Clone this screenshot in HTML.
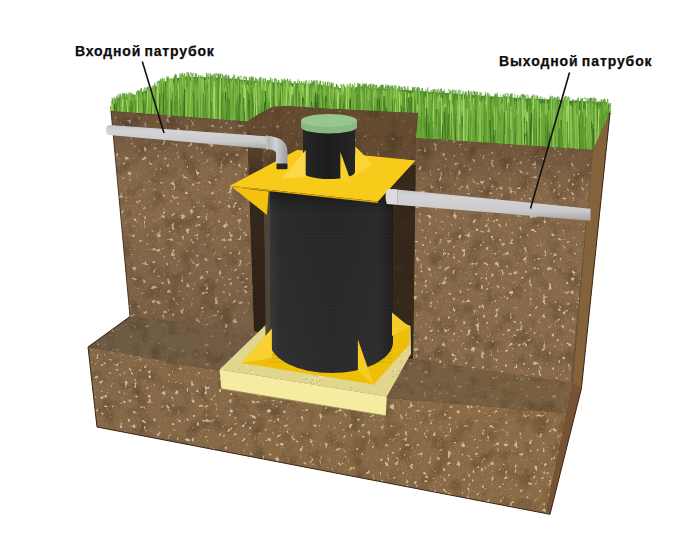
<!DOCTYPE html>
<html><head><meta charset="utf-8">
<style>
html,body{margin:0;padding:0;background:#fff;}
body{width:700px;height:560px;overflow:hidden;position:relative;}
svg{position:absolute;left:0;top:0;}
.lbl{position:absolute;font-family:"Liberation Sans",sans-serif;font-weight:bold;font-size:14px;color:#0c0c0c;-webkit-text-stroke:0.25px #0c0c0c;white-space:nowrap;line-height:1;}
</style></head>
<body>
<svg width="700" height="560" viewBox="0 0 700 560">
<defs><filter id="gb" x="-2%" y="-10%" width="104%" height="120%"><feGaussianBlur stdDeviation="0.45"/></filter></defs>
<g filter="url(#gb)">
<polygon points="111.0,111.0 113.0,102.0 118.0,98.0 132.0,96.0 145.0,91.0 154.0,87.0 163.0,82.0 171.0,79.0 186.0,76.5 200.0,77.0 218.0,77.5 250.0,80.5 286.0,83.0 323.0,85.0 340.0,88.0 360.0,87.0 390.0,89.0 420.0,91.0 460.0,94.0 500.0,97.0 540.0,99.0 580.0,101.0 600.0,102.0 608.0,103.0 611.0,107.0 610.0,113.0 593.0,150.0 416.0,138.0 416.0,116.0 418.0,113.0 330.0,108.6 287.0,105.7 273.0,106.4 258.6,114.3 247.0,121.4 111.0,111.0" fill="#4a862a"/>
<path d="M217.5 119.6L217.5 109.6M467.4 142.0L467.9 123.2M218.9 119.7L219.7 94.5M236.2 121.1L236.3 110.2M354.5 110.7L355.0 101.7M203.6 118.6L203.5 93.9M149.1 114.4L149.1 107.7M369.9 111.4L369.7 100.8M384.5 112.0L385.4 98.8M144.3 114.0L143.3 101.8M160.6 115.3L161.3 106.4M357.2 110.8L357.6 104.3M474.9 142.5L474.3 132.0M426.3 139.2L425.9 107.4M236.3 121.1L236.4 95.9M410.5 113.2L411.2 105.8M185.0 117.2L184.3 94.7M536.2 146.7L535.4 115.7M157.5 115.1L157.1 106.3M141.2 113.8L140.2 108.3M189.7 117.5L189.6 93.9M282.6 107.3L281.7 99.4M422.7 139.0L421.8 107.9M234.9 121.0L235.7 105.2M317.1 108.9L316.0 94.6M459.9 141.5L459.4 125.0M287.1 107.6L287.0 101.3M377.8 111.7L378.4 102.9M602.3 130.2L603.3 114.6M257.3 116.0L258.4 100.9M322.3 109.2L322.2 91.6M464.6 141.8L464.2 112.5M539.4 146.9L540.5 118.2M481.1 142.9L479.9 129.7M216.6 119.6L217.0 107.2M191.4 117.6L191.2 100.6M390.6 112.3L391.7 100.2M532.6 146.4L531.5 122.4M443.0 140.3L443.1 112.1M453.6 141.1L453.7 120.7M406.4 113.1L405.5 99.4M206.7 118.8L205.7 92.7M481.6 142.9L482.6 127.8M191.2 117.6L190.4 103.4M210.5 119.1L210.1 102.1M323.6 109.2L323.7 92.2M269.0 109.2L268.1 92.8M521.0 145.6L521.8 118.2M124.0 112.5L122.8 103.2M472.0 142.3L472.9 110.6M361.6 111.0L361.3 97.4M219.1 119.8L219.8 107.2M526.3 146.0L526.7 120.4M552.4 147.7L553.3 117.4M170.9 116.1L170.5 108.6M567.1 148.7L566.3 135.9M147.5 114.3L148.1 107.2M302.3 108.3L301.5 93.9M198.3 118.2L198.5 104.0M322.7 109.2L322.9 103.0M564.0 148.5L563.6 121.2M574.5 149.2L574.9 127.5M167.9 115.9L168.8 90.9M504.2 144.5L503.7 123.2M338.3 109.9L338.2 97.9M382.9 112.0L381.8 100.5M375.5 111.6L376.5 100.7M209.9 119.1L210.5 99.1" stroke="#3c6e20" stroke-width="1.2" fill="none"/>
<path d="M364.4 111.1L365.1 96.8M534.5 146.5L533.5 125.2M526.6 146.0L525.7 129.3M332.0 109.6L332.2 97.6M434.3 139.7L435.3 121.8M179.0 116.7L179.5 90.8M125.4 112.6L126.6 105.8M145.1 114.1L144.8 97.3M387.9 112.2L388.8 102.8M113.8 111.7L113.4 106.0M286.6 107.5L285.8 94.5M571.4 149.0L571.8 119.1M137.8 113.5L138.0 105.2M423.7 139.0L424.3 106.6M139.6 113.7L139.0 102.3M281.6 107.3L281.7 93.6M563.8 148.5L564.3 132.7M598.1 139.3L599.1 117.3M252.7 118.6L253.5 111.7M183.0 117.0L183.1 106.9M287.3 107.6L286.8 100.6M199.1 118.2L200.0 108.2M361.9 111.0L361.7 106.0M407.9 113.1L407.1 99.2M539.8 146.9L540.4 131.3M401.1 112.8L401.8 101.7M581.1 149.7L580.3 130.1M555.3 147.9L554.3 116.7M392.4 112.4L392.6 95.8M524.6 145.9L524.5 130.1M569.1 148.9L569.0 117.0M393.2 112.4L392.3 100.0M439.8 140.1L439.2 131.6M492.8 143.7L492.9 118.2M310.8 108.6L310.0 95.5M516.6 145.3L517.2 125.3M428.3 139.3L427.3 108.2M353.3 110.6L352.6 100.8M590.1 150.3L591.0 131.1M399.2 112.7L400.3 97.9M257.5 115.8L258.6 109.3M425.6 139.2L426.6 120.7M475.8 142.6L474.7 114.2M426.4 139.2L427.3 114.1M304.0 108.3L303.2 98.1M600.8 133.4L600.8 127.6M433.0 139.6L431.8 124.5M153.1 114.7L152.2 105.8M302.0 108.2L301.5 102.4M116.4 111.9L116.7 103.9M547.9 147.4L547.7 117.6M596.2 143.5L596.7 120.5M461.0 141.6L461.8 133.4M222.0 120.0L221.8 104.6M220.8 119.9L221.7 103.6M320.5 109.1L321.6 94.5M127.8 112.8L126.7 102.6M338.0 109.9L336.9 95.1M401.1 112.8L401.4 103.4M521.0 145.6L522.1 113.0M353.9 110.6L354.1 101.3M208.2 118.9L208.4 101.0M261.2 113.7L261.6 106.7M292.6 107.8L293.6 95.5M562.9 148.5L562.0 123.1" stroke="#4c8428" stroke-width="1.2" fill="none"/>
<path d="M336.7 109.8L336.7 95.6M174.5 116.4L174.7 95.0M417.6 138.6L418.6 127.1M200.4 118.3L200.5 83.1M227.1 120.4L226.7 103.0M318.4 109.0L319.6 92.9M436.8 139.9L437.1 96.4M511.7 145.0L511.1 106.5M439.1 140.1L440.0 98.4M275.3 107.0L274.7 100.7M232.7 120.8L231.9 86.1M467.6 142.0L468.6 115.2M313.2 108.8L312.6 89.4M302.8 108.3L301.7 87.7M288.9 107.6L288.0 91.8M163.8 115.5L163.0 81.8M336.4 109.8L336.6 89.3M518.5 145.4L518.8 124.2M391.0 112.3L391.7 107.4M581.9 149.7L581.7 125.7M360.8 111.0L361.0 86.2M370.4 111.4L370.8 97.0M119.2 112.1L120.3 107.9M421.8 138.9L421.7 92.2M573.1 149.2L572.7 124.8M169.7 116.0L170.3 77.9M398.1 112.7L399.0 108.3M322.0 109.2L321.7 99.5M297.0 108.0L298.0 94.9M472.3 142.3L473.4 130.1M344.2 110.2L343.1 94.3M392.9 112.4L392.8 91.5M285.4 107.5L285.8 102.7M442.9 140.3L441.8 118.8M342.3 110.1L342.3 92.0M320.6 109.1L320.1 89.3M551.4 147.7L550.9 136.2M503.5 144.4L502.6 118.8M429.4 139.4L428.6 115.3M310.3 108.6L310.7 82.8M333.9 109.7L333.2 97.4M393.7 112.5L392.6 94.1M501.1 144.3L501.2 105.8M218.9 119.7L219.9 83.9M504.0 144.5L502.9 117.2M374.3 111.6L374.3 89.1M148.0 114.3L148.3 101.0M140.7 113.8L139.7 101.3M163.5 115.5L162.5 106.4M568.3 148.8L567.4 134.1M140.0 113.7L139.6 94.6M402.4 112.9L401.9 91.5M130.1 113.0L130.7 96.4M480.0 142.8L479.2 106.5M380.5 111.9L379.4 99.2M161.8 115.4L162.7 101.3M442.2 140.3L442.3 121.5M308.7 108.5L308.0 99.0M602.6 129.6L603.4 116.7M244.2 121.7L243.8 111.2M325.4 109.3L325.8 102.5M508.7 144.8L509.8 127.2M219.4 119.8L220.6 82.6M528.9 146.2L528.5 106.0M600.5 134.1L601.7 100.9M597.1 141.5L597.5 132.1M427.5 139.3L428.1 99.9M381.7 111.9L381.1 96.6M564.3 148.6L565.3 98.6M206.3 118.8L206.0 84.4M590.0 150.3L590.5 97.7M577.0 149.4L576.9 132.0M512.8 145.1L513.0 101.5M547.8 147.4L547.8 130.4M446.0 140.5L445.9 98.4M341.4 110.1L342.3 94.5M286.8 107.5L287.1 99.0M245.3 121.8L246.4 95.6M228.3 120.5L228.7 75.9M467.1 142.0L467.2 97.8M360.2 110.9L360.8 95.3M266.3 110.8L265.3 78.7M416.0 113.5L417.1 103.7M386.1 112.1L385.7 96.7M332.7 109.7L331.7 82.6M279.9 107.2L279.2 82.9M195.2 117.9L196.2 73.8M122.1 112.3L121.0 96.6M503.3 144.4L503.8 114.6M344.9 110.2L346.0 100.5M405.1 113.0L404.9 86.6M550.8 147.6L550.2 136.7M119.1 112.1L119.1 101.0M148.4 114.4L148.8 89.3M482.5 143.0L482.6 134.2M191.0 117.6L191.3 101.7M136.7 113.5L136.3 105.3M464.3 141.8L464.5 124.2M275.5 107.0L274.8 97.4M133.0 113.2L132.1 98.0M371.6 111.5L372.3 99.5M234.9 121.0L236.1 88.9M278.6 107.2L278.8 87.2M154.7 114.8L155.5 93.9M601.0 133.1L600.2 108.0M593.6 149.2L593.2 126.5M535.5 146.6L536.3 98.8M287.3 107.6L286.9 100.3M312.1 108.7L311.4 88.6M605.1 124.1L604.2 110.6" stroke="#5c9830" stroke-width="1.2" fill="none"/>
<path d="M308.7 108.5L309.0 90.7M162.8 115.5L162.2 78.8M543.2 147.1L542.3 130.1M351.2 110.5L350.4 87.3M357.7 110.8L358.4 85.8M213.0 119.3L212.4 89.5M279.4 107.2L278.8 87.7M212.1 119.2L213.1 106.5M450.2 140.8L450.5 120.3M463.9 141.7L464.2 99.3M163.0 115.5L161.9 85.6M507.5 144.7L507.9 93.0M519.9 145.5L519.3 128.2M247.0 121.9L248.1 86.8M606.3 121.6L606.4 102.3M599.4 136.7L598.8 127.8M338.9 109.9L339.9 93.0M242.9 121.6L243.1 94.5M185.0 117.2L184.9 87.0M568.2 148.8L567.6 97.6M471.6 142.3L471.4 128.0M262.1 113.2L262.5 88.5M365.4 111.2L366.4 84.1M463.4 141.7L463.7 97.4M577.7 149.5L577.4 134.5M468.5 142.1L468.7 115.8M152.1 114.6L151.6 89.2M449.7 140.8L449.8 90.6M363.4 111.1L364.1 91.7M131.2 113.0L131.6 95.9M536.6 146.7L536.3 137.5M595.3 145.4L596.4 117.4M371.9 111.5L372.2 99.9M568.4 148.8L568.3 114.9M169.6 116.0L170.1 79.6M435.1 139.8L434.3 92.9M391.5 112.4L391.6 100.6M260.3 114.2L260.1 87.1M351.2 110.5L351.2 92.7M111.2 111.5L110.4 106.3M534.0 146.5L532.9 113.0M255.5 117.0L256.4 83.1M349.5 110.4L349.3 90.7M523.6 145.8L524.6 112.6M499.9 144.2L499.4 123.6M130.1 113.0L130.3 100.8M136.7 113.5L137.0 103.1M501.5 144.3L502.2 130.2M568.5 148.8L568.0 118.9M542.1 147.1L541.8 120.0M549.1 147.5L550.2 102.8M315.3 108.9L314.2 83.5M601.6 131.9L602.7 103.7M272.2 107.4L271.1 86.1M575.8 149.3L576.4 110.1M357.1 110.8L357.6 92.6M232.9 120.8L231.8 87.0M221.7 120.0L222.6 81.1M181.6 116.9L180.6 79.2M366.6 111.2L366.8 99.6M176.7 116.5L177.6 95.8M305.8 108.4L304.6 92.8M260.1 114.4L259.1 97.6M367.0 111.2L367.4 93.3M256.4 116.5L256.2 97.8M427.4 139.3L427.9 106.6M316.8 108.9L316.5 95.6M460.3 141.5L459.3 92.9M268.7 109.4L267.6 79.9M297.1 108.0L298.2 89.1" stroke="#6caa3a" stroke-width="1.2" fill="none"/>
<path d="M543.4 147.1L542.9 102.8M181.1 116.9L182.2 78.4M486.8 143.3L487.8 92.3M504.0 144.5L504.2 110.4M295.4 107.9L294.8 86.0M576.8 149.4L576.7 107.6M345.1 110.2L345.1 91.5M294.3 107.9L293.3 87.6M123.1 112.4L123.4 99.8M315.0 108.8L314.4 82.2M438.6 140.0L438.4 105.0M375.5 111.6L374.5 93.3M409.3 113.2L408.3 95.9M480.8 142.9L480.2 93.5M314.6 108.8L315.1 83.6M358.4 110.8L357.3 86.7M550.6 147.6L550.1 97.0M330.0 109.5L329.3 83.8M587.9 150.2L587.2 103.1M450.7 140.9L449.6 97.3M484.7 143.2L485.5 93.3M426.1 139.2L424.9 96.6M419.4 138.7L420.3 96.5M316.7 108.9L316.8 87.8M230.8 120.7L231.3 81.6M175.1 116.4L175.7 83.6M385.1 112.1L385.0 91.9M529.4 146.2L528.5 105.0M488.4 143.4L487.5 94.1M341.3 110.1L342.2 87.7M583.4 149.8L584.2 111.6M180.3 116.8L181.5 85.8M254.8 117.4L254.8 83.2M437.6 140.0L438.7 95.9M339.8 110.0L339.9 87.9M207.2 118.9L206.9 74.6M510.0 144.9L508.8 102.3M562.8 148.5L561.6 98.3M307.5 108.5L306.9 84.3M227.2 120.4L227.2 79.3M313.8 108.8L314.4 84.9M300.9 108.2L300.1 86.4M316.6 108.9L317.1 80.9M526.9 146.0L526.9 109.8M460.1 141.5L460.6 93.8" stroke="#7eb846" stroke-width="1.2" fill="none"/>
<path d="M508.7 144.8L508.6 100.7M486.9 143.3L486.9 99.8M209.0 119.0L209.0 79.8M245.2 121.8L244.9 81.8M213.0 119.3L213.1 74.2M361.1 111.0L360.1 88.0M112.9 111.6L113.7 102.6M473.1 142.4L473.4 98.1M177.2 116.6L177.9 84.5M554.9 147.9L554.5 97.3M319.0 109.0L319.4 90.3M604.9 124.6L604.1 103.8M220.8 119.9L220.4 79.1M150.5 114.5L150.2 93.5M251.1 119.5L252.0 77.1M145.8 114.2L144.7 93.0M493.0 143.7L491.9 107.2M512.5 145.0L513.4 97.3M470.0 142.2L469.0 103.0M443.2 140.3L444.2 89.3M233.3 120.8L234.3 74.6M554.4 147.9L555.2 114.2" stroke="#90c852" stroke-width="1.2" fill="none"/>
<path d="M552.5 147.8L553.7 104.5M592.0 150.4L591.0 111.4M500.0 144.2L499.4 99.7M585.2 150.0L584.6 114.9M346.7 110.3L347.8 83.9M600.0 135.3L598.8 108.4M242.0 121.5L242.9 84.7M554.5 147.9L554.2 110.8M487.3 143.3L486.2 94.8M470.8 142.2L471.9 105.5M465.9 141.9L466.2 91.1M546.0 147.3L547.1 103.5M604.2 126.0L603.1 103.2M470.2 142.2L470.5 94.7M446.3 140.6L446.8 101.0M275.1 107.0L275.7 82.2M514.2 145.2L515.1 104.1M175.6 116.4L174.8 88.7M220.1 119.8L220.4 84.7M494.5 143.8L494.8 108.7M139.1 113.6L139.5 94.4M493.9 143.8L494.3 105.1M208.3 118.9L209.4 78.9" stroke="#a4d866" stroke-width="1.2" fill="none"/>
<path d="M178.2 116.6L177.1 99.2M209.2 119.0L208.9 107.5M424.4 139.1L423.7 122.1M429.4 139.4L429.5 123.0M286.5 107.5L285.5 93.6M455.5 141.2L455.6 125.5M601.7 131.5L600.9 119.0M493.1 143.7L491.9 123.7M479.0 142.8L479.8 129.4M499.1 144.1L498.2 115.4M350.3 110.5L351.5 98.1M325.8 109.3L325.4 91.8M473.6 142.4L474.7 129.4M250.8 119.7L250.3 92.4M205.5 118.7L205.8 102.5M319.4 109.0L318.6 102.3M150.0 114.5L149.1 106.3M451.4 140.9L452.6 126.5M488.3 143.4L487.6 127.5M552.8 147.8L553.5 136.8M245.1 121.8L246.1 100.9M386.3 112.1L386.3 107.5M363.8 111.1L363.2 95.3M524.7 145.9L524.1 113.9M378.0 111.7L378.8 99.5M153.7 114.8L152.8 101.2M179.9 116.8L180.1 91.8M565.0 148.6L564.0 118.5M483.6 143.1L483.7 113.1M120.2 112.2L121.4 104.4M210.7 119.1L211.6 106.8M258.2 115.4L259.3 93.6M603.4 127.8L604.4 116.7M176.9 116.5L176.6 108.1M569.0 148.9L568.8 118.6M338.2 109.9L337.7 99.0M254.0 117.9L255.1 95.5M519.3 145.5L518.9 132.4M447.0 140.6L448.0 109.8M402.1 112.9L403.0 96.2M328.1 109.4L327.0 95.3M369.9 111.4L369.4 106.4M201.4 118.4L202.4 101.0M417.7 138.6L416.8 113.9M314.5 108.8L313.5 94.7M416.7 138.6L417.8 118.4M362.9 111.1L363.8 98.2M413.3 113.4L412.8 102.3M194.8 117.9L193.6 102.3M306.2 108.4L305.4 99.3M555.5 148.0L555.5 138.4M140.3 113.7L141.3 104.7M217.8 119.7L218.5 95.5M195.7 118.0L195.5 90.0M603.8 127.1L604.9 109.8M472.5 142.3L472.1 122.6M347.6 110.3L347.2 106.0M299.9 108.1L299.8 102.9M267.8 109.9L267.3 98.4M372.8 111.5L372.4 104.3M180.4 116.8L181.0 108.1M257.1 116.1L256.3 107.0M281.7 107.3L281.0 96.0M249.8 120.3L249.9 105.5M560.0 148.3L560.3 132.9M373.7 111.5L373.5 98.3M290.2 107.7L290.5 98.3M199.2 118.2L199.6 89.9" stroke="#3c6e20" stroke-width="1.2" fill="none"/>
<path d="M348.4 110.4L347.4 97.2M576.4 149.4L576.3 128.8M141.9 113.9L140.9 108.7M472.8 142.4L473.1 121.2M404.6 113.0L404.8 99.4M488.3 143.4L488.6 128.7M382.1 111.9L382.4 102.6M247.2 121.8L248.3 95.0M150.0 114.5L151.0 100.8M180.9 116.8L181.8 108.1M150.2 114.5L150.1 103.7M136.2 113.4L136.9 101.4M159.0 115.2L158.6 100.0M200.8 118.4L200.1 90.0M147.8 114.3L148.6 100.2M317.1 108.9L316.9 92.8M209.8 119.1L210.1 108.5M120.0 112.2L120.0 106.7M308.8 108.6L308.1 102.3M163.5 115.5L163.1 92.2M514.7 145.2L514.6 125.1M463.1 141.7L464.1 126.7M444.2 140.4L444.8 129.4M357.6 110.8L358.1 101.1M135.3 113.4L134.8 100.8M563.9 148.5L564.5 126.6M535.6 146.6L536.1 127.8M130.4 113.0L130.1 101.3M455.0 141.1L455.0 114.4M130.1 113.0L131.1 102.9M199.4 118.3L199.7 101.3M533.4 146.5L533.8 136.9M528.9 146.2L528.0 129.0M151.1 114.6L151.5 96.0M394.3 112.5L395.0 100.4M135.6 113.4L136.6 103.3M495.4 143.9L495.2 113.7M132.1 113.1L133.2 102.2M558.9 148.2L558.0 129.0M195.9 118.0L196.2 90.8M384.8 112.1L384.9 101.5M548.8 147.5L548.5 117.1M320.6 109.1L320.1 99.9M420.3 138.8L420.6 112.1M223.3 120.1L222.3 104.4M124.4 112.5L123.6 105.2M378.6 111.8L379.2 95.3M454.6 141.1L455.0 124.5M298.4 108.1L298.4 95.8M184.5 117.1L184.8 97.7M209.6 119.0L210.6 100.5M207.4 118.9L208.1 97.3M232.1 120.8L231.1 110.7M229.6 120.6L229.8 92.3M539.6 146.9L540.5 117.3M575.0 149.3L575.1 128.0M364.7 111.1L364.0 95.8M209.8 119.1L208.7 98.4M596.5 142.9L595.3 129.7M395.9 112.6L396.3 100.2M455.0 141.1L453.9 115.7M516.0 145.3L515.2 133.1M241.5 121.5L241.7 98.9M330.5 109.6L331.3 96.5" stroke="#4c8428" stroke-width="1.2" fill="none"/>
<path d="M262.4 113.0L262.6 79.6M180.1 116.8L180.4 89.7M302.8 108.3L302.1 93.6M583.5 149.9L582.6 119.2M451.5 140.9L450.6 129.0M375.7 111.6L375.8 95.0M115.7 111.9L116.0 98.9M291.5 107.8L291.9 87.7M183.2 117.0L183.3 106.7M567.6 148.8L567.9 103.4M338.0 109.9L338.0 90.2M137.9 113.6L138.7 97.9M514.6 145.2L515.0 136.1M112.7 111.6L113.1 104.6M543.5 147.1L542.5 114.3M122.0 112.3L121.7 99.4M435.0 139.8L434.0 129.0M249.8 120.3L250.1 85.7M389.5 112.3L390.5 95.2M223.4 120.1L223.0 83.4M401.6 112.8L402.1 106.2M526.9 146.0L526.2 111.8M448.9 140.7L449.2 96.9M314.4 108.8L314.5 89.6M318.7 109.0L317.7 98.8M443.1 140.3L442.4 101.1M206.4 118.8L206.6 106.6M431.8 139.6L432.6 115.1M387.5 112.2L386.4 98.0M432.6 139.6L431.6 103.5M392.6 112.4L391.7 91.2M133.7 113.2L133.4 101.8M503.5 144.4L503.6 132.0M179.5 116.7L179.9 108.8M262.0 113.3L262.8 95.5M381.0 111.9L381.8 85.1M333.2 109.7L332.6 98.0M330.4 109.5L329.2 102.5M172.5 116.2L173.3 92.9M269.1 109.1L270.0 91.4M488.1 143.4L488.9 101.5M588.0 150.2L588.0 117.1M424.2 139.1L424.0 91.1M255.2 117.2L256.2 79.2M303.8 108.3L302.7 83.0M191.6 117.7L192.8 96.3M569.7 148.9L568.9 101.7M173.5 116.3L172.5 85.4M332.1 109.6L332.4 84.0M169.4 116.0L169.7 92.6M349.4 110.4L348.3 101.7M283.7 107.4L282.9 97.2M532.1 146.4L532.0 103.1M483.3 143.1L483.9 111.7M451.8 140.9L451.5 124.8M290.4 107.7L290.1 99.0M585.5 150.0L586.3 111.1M315.0 108.8L314.7 84.9M115.6 111.9L116.1 97.7M254.9 117.4L254.6 91.9M517.6 145.4L518.4 103.3M499.3 144.1L498.5 116.7M367.9 111.3L367.3 86.7M522.0 145.7L522.7 118.3M477.2 142.6L478.2 125.0M585.2 150.0L585.6 118.1M230.6 120.6L231.3 83.4M297.9 108.1L297.6 97.5M229.5 120.6L228.7 84.1M346.8 110.3L346.5 96.1M303.2 108.3L303.4 86.9M164.2 115.6L164.0 79.3M191.7 117.7L191.8 95.8M465.5 141.9L465.9 101.4M351.7 110.5L352.2 92.3M234.8 121.0L233.9 100.6M543.2 147.1L542.0 130.6M466.4 141.9L465.7 116.1M372.1 111.5L373.0 97.3M553.4 147.8L554.2 105.0M448.7 140.7L448.4 105.9M605.9 122.5L604.7 117.7M336.9 109.8L337.0 102.4M537.7 146.7L536.7 109.5M570.2 149.0L569.0 136.0M288.8 107.6L288.7 81.0M582.4 149.8L582.8 111.7M542.2 147.1L542.3 124.8M531.5 146.3L532.3 107.0M550.9 147.6L549.8 98.7M340.6 110.0L339.7 105.5M393.1 112.4L392.1 86.8M182.4 117.0L182.1 98.6M256.3 116.6L255.6 109.7M532.4 146.4L533.1 113.2M342.7 110.1L341.8 104.7M293.5 107.8L292.7 88.5M287.9 107.6L287.6 97.9M292.5 107.8L293.3 86.5M509.4 144.8L509.9 116.4M314.2 108.8L313.8 80.5M545.8 147.3L547.0 128.0M258.5 115.3L258.5 81.1M544.9 147.2L544.0 124.8M444.0 140.4L444.8 101.0M596.7 142.4L596.2 112.9M280.6 107.3L279.7 95.0M420.1 138.8L421.2 129.1M413.3 113.4L412.7 91.9M514.6 145.2L513.6 135.3" stroke="#5c9830" stroke-width="1.2" fill="none"/>
<path d="M189.6 117.5L188.5 72.7M591.4 150.4L591.4 98.0M231.9 120.7L233.0 89.6M530.3 146.2L529.3 137.8M217.4 119.6L217.1 89.7M553.2 147.8L552.2 116.2M247.6 121.5L247.2 94.0M119.0 112.1L120.2 103.4M153.9 114.8L153.5 88.7M144.6 114.1L144.0 96.8M250.0 120.2L249.3 98.5M373.0 111.5L372.8 93.0M386.5 112.1L387.0 106.0M461.7 141.6L461.1 115.5M172.4 116.2L171.9 85.6M474.9 142.5L475.6 102.6M312.1 108.7L313.0 95.7M562.3 148.4L561.8 133.4M438.7 140.0L438.1 97.4M510.2 144.9L509.3 131.7M128.8 112.9L129.3 100.0M600.2 134.8L599.2 114.3M513.5 145.1L513.7 110.7M287.8 107.6L287.4 86.9M190.6 117.6L190.6 106.3M491.7 143.6L491.8 113.5M524.1 145.8L525.1 127.8M477.3 142.7L477.0 124.6M270.9 108.1L270.6 78.8M439.1 140.1L439.7 131.2M301.4 108.2L300.3 97.5M405.9 113.0L406.1 95.1M283.9 107.4L284.0 82.7M170.0 116.0L169.5 93.4M479.8 142.8L480.5 108.6M479.0 142.8L480.1 91.9M130.2 113.0L130.4 97.1M225.5 120.3L225.5 75.2M551.4 147.7L551.8 119.2M355.4 110.7L356.5 92.6M575.5 149.3L574.5 113.6M544.9 147.2L545.8 99.4M256.8 116.3L255.6 77.6M588.4 150.2L589.3 109.4M198.5 118.2L199.1 80.4M384.6 112.0L384.8 93.7M476.1 142.6L476.1 127.1M394.8 112.5L394.9 108.1M549.1 147.5L549.8 132.9M313.7 108.8L312.6 99.0M350.7 110.5L351.8 92.9M265.2 111.4L264.7 86.6M371.0 111.4L371.6 88.3M193.6 117.8L193.2 92.0M553.4 147.8L553.6 130.0M130.5 113.0L130.7 98.3M358.9 110.9L360.0 96.7M316.6 108.9L316.9 100.0M134.9 113.3L135.3 99.1M197.0 118.1L197.3 108.2M491.4 143.6L492.3 111.0M136.0 113.4L134.8 108.4M491.6 143.6L492.5 101.8M482.5 143.0L482.9 105.7M233.8 120.9L235.0 83.0M272.1 107.4L271.0 85.6M250.4 120.0L249.4 101.0M496.5 144.0L497.0 94.4M245.7 121.8L246.0 96.9M237.7 121.2L236.6 80.6" stroke="#6caa3a" stroke-width="1.2" fill="none"/>
<path d="M462.6 141.7L462.1 101.0M415.1 113.5L416.2 93.2M129.2 112.9L128.8 93.8M506.4 144.6L505.2 98.2M235.4 121.0L236.4 87.4M113.0 111.7L114.2 101.5M455.1 141.2L454.1 106.2M353.5 110.6L352.3 84.7M403.9 112.9L403.2 91.4M358.1 110.8L358.5 86.6M430.5 139.5L431.3 94.7M183.4 117.0L184.5 74.2M189.4 117.5L189.6 81.2M449.4 140.8L449.8 93.8M288.7 107.6L288.7 82.2M343.6 110.2L343.7 83.7M465.4 141.8L465.3 107.0M290.0 107.7L289.1 85.2M288.4 107.6L287.5 78.8M354.9 110.7L354.7 83.4M223.3 120.1L223.7 76.0M335.9 109.8L335.0 86.7M300.9 108.2L300.5 83.6M314.5 108.8L314.6 82.2M209.2 119.0L210.4 73.2M492.2 143.7L492.2 106.7M412.8 113.4L413.9 90.7M213.2 119.3L213.4 88.3M429.0 139.4L429.1 105.2M290.7 107.7L289.6 80.0M228.1 120.5L228.7 83.5M258.4 115.3L258.4 81.4M542.1 147.0L541.6 113.5M527.9 146.1L528.9 108.1M380.2 111.8L380.9 84.7M499.8 144.2L501.0 106.9M598.2 139.1L598.7 109.7M238.2 121.2L238.7 79.5M546.5 147.3L546.2 101.2M436.6 139.9L437.7 102.2M415.7 113.5L415.3 90.8M256.1 116.6L255.6 84.1M305.5 108.4L306.2 86.5M340.7 110.0L341.8 84.8M403.0 112.9L402.7 94.0" stroke="#7eb846" stroke-width="1.2" fill="none"/>
<path d="M302.5 108.3L301.3 89.0M566.5 148.7L566.8 103.0M471.1 142.2L471.9 101.7M205.1 118.7L206.3 84.0M133.7 113.2L134.8 98.4M202.8 118.5L203.4 79.9M587.8 150.1L586.8 110.2M504.8 144.5L505.2 96.5M387.0 112.2L386.9 89.8M467.5 142.0L467.1 105.2M333.8 109.7L333.2 82.7M534.0 146.5L534.1 102.2M435.5 139.8L434.8 88.7M235.3 121.0L235.8 83.2M391.6 112.4L391.8 89.4M261.7 113.4L262.4 80.2M393.7 112.5L394.5 89.4M563.5 148.5L564.3 101.1M424.9 139.1L425.7 96.8M375.1 111.6L375.1 89.6M421.2 138.9L420.3 95.5M516.0 145.3L516.2 109.8" stroke="#90c852" stroke-width="1.2" fill="none"/>
<path d="M168.0 115.9L166.9 75.8M148.1 114.3L148.5 88.6M503.6 144.4L503.5 95.4M474.1 142.4L473.8 99.2M269.2 109.1L269.1 86.9M136.8 113.5L135.7 94.0M158.7 115.1L158.7 84.9M316.6 108.9L315.8 82.4M298.9 108.1L298.4 84.9M468.4 142.1L467.5 95.3M236.8 121.1L237.8 90.9M499.3 144.1L500.4 99.1M252.5 118.7L253.4 76.2M111.5 111.5L111.5 105.3M286.1 107.5L286.0 81.9M216.4 119.6L217.2 80.4M230.2 120.6L230.1 86.9M278.8 107.2L279.8 82.1M467.9 142.0L468.9 103.7M193.0 117.8L192.4 73.5M433.8 139.7L434.1 93.7M136.9 113.5L136.6 92.0" stroke="#a4d866" stroke-width="1.2" fill="none"/>
<path d="M542.3 147.1L541.8 137.9M125.2 112.6L125.0 106.1M363.3 111.1L364.5 100.8M320.9 109.1L320.5 93.1M483.6 143.1L483.9 125.7M562.7 148.4L562.8 119.1M273.2 106.9L273.2 92.6M349.8 110.4L350.3 99.1M320.9 109.1L321.5 97.5M322.6 109.2L321.7 103.9M225.7 120.3L226.9 95.0M215.7 119.5L215.2 103.0M572.7 149.1L572.5 135.6M238.1 121.2L237.1 110.3M306.1 108.4L305.4 91.0M553.7 147.8L554.4 128.8M529.8 146.2L528.9 123.0M586.6 150.1L586.4 116.8M133.0 113.2L132.9 100.2M173.7 116.3L172.7 93.8M275.3 107.0L274.4 96.8M183.8 117.1L183.4 93.9M331.1 109.6L331.4 102.2M325.1 109.3L325.7 95.2M571.0 149.0L570.2 117.8M214.2 119.4L215.0 102.4M310.4 108.6L309.5 103.2M271.0 108.0L270.0 95.2M313.9 108.8L313.1 103.3M132.4 113.1L131.7 104.8M305.6 108.4L305.6 97.5M225.0 120.2L224.6 96.1M281.6 107.3L281.0 93.2M589.8 150.3L588.7 133.7M226.2 120.3L226.1 102.6M258.2 115.5L257.3 104.4M453.5 141.0L454.4 118.2M222.0 120.0L223.2 102.7M341.8 110.1L342.6 94.2M216.1 119.5L216.7 90.4M463.8 141.7L463.3 117.1M199.9 118.3L201.1 93.8M554.8 147.9L553.7 114.7M579.5 149.6L579.1 121.8M305.1 108.4L304.8 99.1M401.2 112.8L401.1 102.8M147.3 114.3L148.1 106.7M461.7 141.6L462.9 127.7M552.5 147.8L552.5 131.9M219.0 119.8L219.5 101.3M308.9 108.6L308.5 96.6M265.1 111.4L264.2 99.4M451.1 140.9L452.0 125.2M378.2 111.8L378.7 94.4M133.6 113.2L134.0 99.7M467.7 142.0L466.5 113.3M144.1 114.0L144.7 107.2M365.7 111.2L365.1 101.9M422.4 138.9L421.7 118.4M574.1 149.2L573.8 117.9M342.3 110.1L341.5 93.5M445.8 140.5L447.0 114.3M183.7 117.1L184.5 100.7M199.6 118.3L200.3 107.3M468.4 142.1L468.0 126.8M554.6 147.9L555.1 130.3M164.2 115.6L163.1 101.7M515.8 145.3L515.6 113.1" stroke="#3c6e20" stroke-width="1.2" fill="none"/>
<path d="M273.8 106.9L273.9 92.2M372.6 111.5L372.4 96.9M579.9 149.6L579.9 122.1M297.2 108.0L296.8 90.8M588.6 150.2L588.3 118.7M430.5 139.5L429.8 121.0M155.2 114.9L154.9 104.7M177.7 116.6L177.1 98.5M598.3 139.1L598.1 132.4M210.9 119.1L210.9 100.3M133.4 113.2L133.1 101.4M433.7 139.7L434.4 118.0M332.7 109.7L332.5 98.8M381.4 111.9L380.6 106.1M307.9 108.5L308.9 102.1M603.6 127.5L603.9 118.7M602.6 129.7L603.1 118.3M168.2 115.9L167.6 97.4M595.0 146.2L594.7 117.2M291.4 107.7L292.4 96.4M255.3 117.1L255.2 99.3M124.8 112.6L124.1 106.3M605.4 123.4L605.7 119.0M137.1 113.5L136.3 106.5M569.4 148.9L569.6 133.4M452.0 140.9L452.8 129.4M269.1 109.2L269.8 103.5M324.5 109.3L323.4 96.4M477.0 142.6L477.1 130.7M441.8 140.2L441.7 108.8M350.3 110.5L350.5 101.2M415.7 113.5L416.2 101.7M584.3 149.9L583.4 135.6M411.9 113.3L411.3 99.4M598.2 139.1L597.7 115.8M214.0 119.4L214.3 101.7M486.0 143.2L484.9 123.5M247.5 121.6L246.9 107.5M308.2 108.5L307.5 95.7M322.2 109.2L322.1 98.7M508.8 144.8L507.9 114.2M183.2 117.0L183.9 107.4M166.9 115.8L166.2 92.2M529.8 146.2L530.6 132.8M513.3 145.1L512.3 122.8M204.2 118.6L204.7 99.1M434.6 139.8L433.9 128.2M221.0 119.9L220.5 110.7M151.4 114.6L150.2 105.0M574.8 149.3L574.2 137.7M460.2 141.5L459.6 126.6M447.8 140.7L447.4 121.8M280.7 107.3L281.3 100.1M578.0 149.5L578.9 134.8M382.4 111.9L382.5 96.1M264.5 111.8L263.9 101.2M325.1 109.3L326.2 98.9M573.7 149.2L574.3 134.5M366.4 111.2L367.6 95.9M372.1 111.5L373.0 97.5M578.6 149.5L579.4 124.0M183.8 117.1L183.7 96.4M123.6 112.5L124.4 108.1M182.5 117.0L183.4 104.1" stroke="#4c8428" stroke-width="1.2" fill="none"/>
<path d="M205.9 118.8L206.6 82.1M571.9 149.1L572.4 117.4M178.1 116.6L178.6 86.2M394.8 112.5L395.6 105.4M158.3 115.1L159.2 103.5M252.5 118.7L251.3 102.0M334.2 109.7L334.9 101.4M508.7 144.8L509.0 116.7M428.8 139.4L428.9 131.0M172.2 116.2L172.6 103.5M208.6 119.0L209.5 105.5M479.5 142.8L479.7 125.2M443.6 140.4L443.3 130.4M455.9 141.2L455.5 124.2M186.8 117.3L186.9 105.9M271.4 107.8L270.7 91.2M545.2 147.3L545.2 126.4M430.2 139.5L429.7 103.5M466.6 141.9L466.4 96.9M423.1 139.0L422.1 127.1M414.5 113.4L413.6 105.2M403.2 112.9L403.3 97.6M491.6 143.6L491.1 109.4M573.6 149.2L573.7 137.1M300.5 108.2L301.7 100.3M462.0 141.6L462.8 120.4M334.0 109.7L335.2 94.9M242.1 121.5L242.7 90.1M243.8 121.7L244.1 96.5M525.1 145.9L526.3 128.8M434.4 139.7L434.8 117.0M477.2 142.7L477.1 92.0M286.3 107.5L285.7 100.7M444.3 140.4L443.3 115.0M570.8 149.0L569.8 107.4M218.8 119.7L217.7 79.8M382.9 112.0L382.8 84.6M476.9 142.6L477.2 116.5M594.4 147.5L593.7 124.8M381.1 111.9L381.3 96.2M484.8 143.2L485.2 94.2M536.4 146.7L535.8 109.0M422.2 138.9L422.4 129.8M336.1 109.8L336.5 84.0M111.8 111.6L111.9 104.4M546.2 147.3L547.0 114.1M486.3 143.3L487.3 128.9M591.3 150.4L590.6 123.3M363.3 111.1L363.4 103.5M208.9 119.0L207.7 88.6M169.9 116.0L169.7 82.6M561.0 148.3L561.1 125.8M406.2 113.0L405.3 96.8M324.2 109.3L323.3 95.1M177.5 116.6L176.6 102.2M313.1 108.8L312.0 88.0M244.6 121.7L243.6 98.8M125.1 112.6L124.9 104.0M343.5 110.2L344.4 85.8M216.0 119.5L216.8 81.1M246.6 121.9L247.7 111.0M227.5 120.4L226.4 105.8M424.8 139.1L423.7 128.0M531.6 146.3L532.4 101.0M482.8 143.0L483.1 106.0M417.4 138.6L417.9 88.7M277.0 107.1L277.6 84.2M344.2 110.2L343.4 101.0M218.5 119.7L218.2 110.4M226.4 120.3L225.9 101.5M531.4 146.3L530.7 128.9M209.9 119.1L210.3 101.0M260.4 114.1L259.6 85.3M165.5 115.7L165.3 101.4M245.0 121.7L246.1 111.1M537.1 146.7L537.5 129.4M419.9 138.8L419.2 111.6M393.7 112.5L394.2 91.7M599.8 135.8L599.3 126.0M166.3 115.7L167.4 77.4M253.0 118.5L253.2 78.0M155.4 114.9L155.6 93.4M170.8 116.1L171.8 108.2M504.1 144.5L503.9 97.1M220.8 119.9L221.0 89.5M312.2 108.7L311.3 103.9M442.7 140.3L443.7 108.0M237.6 121.2L237.2 78.2M297.0 108.0L296.2 101.8M350.2 110.5L350.6 104.7M166.2 115.7L167.2 80.8M563.9 148.5L563.0 118.5M421.1 138.8L422.2 128.7M592.1 150.4L592.3 132.6M119.7 112.2L120.5 104.5M312.4 108.7L311.7 101.9M567.6 148.8L566.8 99.9M484.5 143.1L484.2 97.6M197.2 118.1L198.0 81.8M524.5 145.9L523.4 94.2M466.0 141.9L466.0 107.6M294.2 107.9L295.2 94.5M337.5 109.9L336.7 105.1M129.2 112.9L128.2 103.9M186.0 117.2L185.8 108.4M306.4 108.4L307.6 95.6M523.5 145.8L524.1 103.0M593.5 149.3L592.7 103.4M268.0 109.8L267.5 89.3M503.8 144.5L504.9 121.8" stroke="#5c9830" stroke-width="1.2" fill="none"/>
<path d="M430.5 139.5L429.5 109.4M475.5 142.5L474.5 104.7M469.4 142.1L468.3 90.9M313.7 108.8L313.4 84.4M402.8 112.9L403.0 103.8M222.8 120.0L222.5 80.7M161.1 115.3L161.0 79.6M258.4 115.3L258.7 85.5M403.0 112.9L402.7 108.4M151.4 114.6L151.6 88.9M289.4 107.7L289.9 83.5M116.3 111.9L116.9 97.0M588.3 150.2L588.8 113.0M381.7 111.9L381.4 95.3M184.5 117.1L183.4 90.0M346.0 110.3L347.0 97.9M422.3 138.9L422.6 104.9M444.7 140.4L443.7 125.8M266.2 110.8L267.4 82.2M436.9 139.9L436.4 99.4M125.9 112.6L125.1 95.1M260.3 114.2L261.2 86.8M136.4 113.4L136.1 98.0M118.3 112.1L117.5 103.0M179.5 116.7L179.3 91.9M119.7 112.2L120.5 102.6M503.2 144.4L503.9 95.9M195.4 118.0L195.9 107.0M419.1 138.7L418.2 114.3M441.3 140.2L440.9 89.1M298.3 108.1L298.3 86.0M428.6 139.4L429.4 117.4M430.2 139.5L429.2 92.2M437.7 140.0L438.0 112.3M293.3 107.8L292.5 97.2M312.8 108.7L311.8 82.8M484.7 143.2L485.1 108.9M168.6 115.9L168.1 98.3M203.9 118.6L203.0 104.0M112.4 111.6L112.2 108.6M344.1 110.2L344.4 92.1M549.5 147.5L550.4 102.9M330.7 109.6L329.8 83.3M267.0 110.4L266.6 96.8M312.3 108.7L312.6 81.6M464.8 141.8L464.9 133.0M197.3 118.1L196.8 85.9M438.7 140.0L439.7 102.2M247.5 121.6L248.6 89.8M309.1 108.6L308.8 84.8M487.1 143.3L487.1 116.4M544.4 147.2L543.9 117.6M556.6 148.0L556.1 101.1M576.5 149.4L576.6 118.3M387.4 112.2L386.4 100.2M117.0 112.0L117.8 106.7M513.7 145.1L513.0 98.1M266.9 110.4L265.7 92.3M591.5 150.4L592.5 102.7M581.5 149.7L582.4 130.0M113.3 111.7L112.1 97.7M446.1 140.5L445.9 94.7M532.0 146.4L532.5 95.8M563.7 148.5L562.6 109.3M235.0 121.0L235.4 96.6M408.5 113.2L407.9 108.2M198.4 118.2L198.4 102.3M479.9 142.8L480.5 101.5M592.6 150.5L593.0 97.8M189.6 117.5L188.6 94.9" stroke="#6caa3a" stroke-width="1.2" fill="none"/>
<path d="M199.0 118.2L198.0 86.7M174.4 116.3L174.4 89.5M413.4 113.4L414.1 89.7M549.6 147.6L549.4 109.9M552.9 147.8L553.0 109.0M564.9 148.6L564.3 96.8M531.3 146.3L531.3 109.9M577.5 149.5L578.3 97.3M441.7 140.2L441.9 105.8M160.0 115.2L160.0 80.7M364.5 111.1L364.0 92.1M499.3 144.1L499.2 97.4M590.3 150.3L590.9 115.5M205.1 118.7L203.9 89.4M280.0 107.2L279.0 81.9M116.3 111.9L116.4 98.9M193.7 117.8L194.6 82.6M428.9 139.4L428.9 95.2M125.4 112.6L126.2 98.4M366.0 111.2L365.0 89.8M499.9 144.2L499.7 97.6M538.0 146.8L537.7 106.3M503.5 144.4L503.2 94.6M452.2 141.0L452.3 100.5M121.7 112.3L120.6 95.4M324.8 109.3L324.1 84.4M315.9 108.9L316.1 80.1M170.9 116.1L170.0 88.2M137.5 113.5L138.1 90.0M549.8 147.6L549.3 112.4M111.3 111.5L111.1 106.8M511.1 144.9L511.9 93.2M459.6 141.5L458.4 98.8M175.1 116.4L175.8 75.5M210.4 119.1L210.7 74.8M383.6 112.0L383.9 90.0M478.0 142.7L477.4 92.6M411.9 113.3L411.3 94.3M496.2 143.9L496.5 110.4M357.6 110.8L358.0 84.3M536.6 146.7L537.6 100.4M129.4 112.9L129.6 92.4M594.0 148.4L594.3 108.9M331.1 109.6L330.5 91.4M333.6 109.7L333.0 91.4" stroke="#7eb846" stroke-width="1.2" fill="none"/>
<path d="M303.7 108.3L303.9 81.3M518.3 145.4L518.3 112.0M412.0 113.3L412.3 92.0M176.3 116.5L175.5 84.7M482.6 143.0L483.6 102.1M266.1 110.9L266.6 88.1M173.7 116.3L173.1 85.6M164.3 115.6L164.2 78.1M129.6 112.9L129.8 98.5M565.6 148.6L565.7 95.8M516.0 145.3L515.4 101.4M533.6 146.5L532.6 106.1M323.2 109.2L324.4 90.6M381.6 111.9L382.3 93.5M397.0 112.6L397.7 89.3M553.2 147.8L553.5 106.7M131.5 113.1L132.6 98.7M226.7 120.3L225.9 87.0M120.7 112.2L121.6 99.3M347.3 110.3L347.8 85.3M558.1 148.1L557.4 97.3M270.1 108.6L270.3 81.5" stroke="#90c852" stroke-width="1.2" fill="none"/>
<path d="M177.1 116.6L176.2 76.7M495.8 143.9L496.9 107.1M300.0 108.1L299.6 80.5M172.7 116.2L172.0 77.6M577.0 149.4L576.2 110.4M399.9 112.8L400.0 91.0M358.7 110.9L357.7 82.8M401.5 112.8L401.7 92.8M451.1 140.9L451.8 93.4M373.1 111.5L372.7 94.0M336.8 109.8L335.7 89.7M499.8 144.2L500.6 95.1M567.7 148.8L568.1 99.8M190.5 117.6L191.6 77.0M237.7 121.2L237.9 81.1M133.4 113.2L132.5 94.4M370.7 111.4L371.4 83.4M208.7 119.0L207.8 78.9M354.9 110.7L354.3 82.9M482.6 143.0L481.7 104.1M595.8 144.5L596.0 113.8M594.9 146.4L595.4 104.8" stroke="#a4d866" stroke-width="1.2" fill="none"/>
<path d="M411.4 113.3L412.6 99.2M356.8 110.8L357.4 105.1M129.7 112.9L130.7 101.6M162.1 115.4L162.7 95.1M392.5 112.4L393.3 95.4M438.8 140.0L440.0 129.4M459.6 141.5L458.7 120.4M550.2 147.6L550.7 132.1M305.3 108.4L304.8 96.4M147.0 114.3L147.7 97.6M576.1 149.4L575.4 119.6M253.6 118.1L253.4 100.3M580.0 149.6L579.2 136.9M133.1 113.2L133.4 106.1M233.4 120.9L234.2 103.5M234.2 120.9L234.0 112.6M438.1 140.0L437.6 107.0M182.8 117.0L182.9 101.9M410.9 113.3L410.1 108.0M582.1 149.8L581.4 126.2M601.0 133.2L600.9 115.3M508.0 144.7L508.2 134.4M601.5 132.0L602.2 121.4M188.8 117.5L188.6 96.2M591.3 150.4L591.4 126.6M190.3 117.6L191.4 89.7M450.8 140.9L451.1 113.5M201.9 118.5L201.1 108.5M150.6 114.5L151.7 107.6M326.5 109.4L325.6 101.3M174.0 116.3L175.1 100.3M462.6 141.7L461.7 128.3M449.9 140.8L449.3 120.4M552.3 147.7L553.4 117.6M528.2 146.1L527.4 127.6M442.9 140.3L442.9 115.6M261.8 113.4L262.9 106.3M390.2 112.3L389.1 99.5M203.6 118.6L202.8 111.2M540.0 146.9L540.1 113.8M405.7 113.0L405.5 107.9M439.9 140.1L440.6 111.7M566.5 148.7L566.7 131.0M320.9 109.1L320.7 95.8M607.0 119.9L606.8 115.9M590.4 150.3L591.2 121.4M534.0 146.5L534.5 128.7M124.6 112.5L124.3 108.6M278.4 107.1L278.4 100.8M507.3 144.7L507.4 133.0M278.4 107.1L277.7 101.6M292.2 107.8L291.9 91.6M465.5 141.9L464.3 132.1M264.8 111.6L265.6 90.2M191.7 117.7L191.6 110.1M587.2 150.1L587.8 137.1M433.3 139.7L433.7 114.3M397.5 112.6L397.3 107.5M387.3 112.2L387.1 100.4M428.7 139.4L429.4 123.3M270.1 108.6L270.7 102.6M140.4 113.7L140.3 106.1M313.8 108.8L314.2 98.1M325.8 109.3L326.5 99.3M191.7 117.7L192.4 108.2M341.2 110.0L341.1 99.5M365.3 111.2L365.3 96.7M472.1 142.3L471.1 118.5" stroke="#3c6e20" stroke-width="1.2" fill="none"/>
<path d="M206.2 118.8L206.0 101.2M594.7 146.7L594.8 118.8M169.0 115.9L169.8 100.8M489.7 143.5L489.6 127.9M562.7 148.4L563.2 115.7M418.5 138.7L418.7 105.6M487.9 143.4L487.1 117.9M211.9 119.2L210.8 106.9M144.2 114.0L144.9 97.4M511.7 145.0L511.9 123.1M127.4 112.8L128.4 108.7M581.8 149.7L581.1 125.3M305.6 108.4L305.5 91.8M312.4 108.7L313.1 93.6M411.4 113.3L411.8 103.5M348.6 110.4L347.8 98.3M511.5 145.0L510.7 113.4M492.4 143.7L491.9 112.7M199.4 118.3L199.6 100.1M338.1 109.9L337.6 94.7M394.6 112.5L394.7 105.2M163.0 115.5L162.9 107.6M239.9 121.4L241.0 104.3M548.4 147.5L548.3 137.6M324.5 109.3L323.5 100.0M233.2 120.8L233.6 103.6M124.9 112.6L124.3 102.0M600.6 133.9L599.8 113.0M436.3 139.9L436.4 117.4M316.4 108.9L315.3 99.9M246.9 121.9L245.9 111.7M150.2 114.5L150.7 105.0M594.4 147.5L595.3 116.8M149.5 114.4L149.1 96.1M252.3 118.8L251.5 99.3M357.8 110.8L358.3 96.8M211.9 119.2L212.5 102.4M334.2 109.7L333.6 101.4M310.2 108.6L310.2 100.1M447.2 140.6L448.4 122.0M321.3 109.1L321.1 95.4M281.4 107.3L281.3 98.9M245.1 121.8L245.6 94.8M300.7 108.2L299.9 102.7M178.3 116.6L177.7 102.5M459.9 141.5L459.3 124.4M507.7 144.7L506.5 112.9M154.7 114.8L154.1 106.0M553.4 147.8L554.4 137.4M573.3 149.2L572.4 116.8M551.0 147.7L551.2 114.4M292.3 107.8L291.5 101.1M155.5 114.9L156.2 94.7M157.1 115.0L157.2 97.2M286.0 107.5L287.1 99.3M388.1 112.2L389.2 99.3M186.1 117.2L187.1 102.3M390.8 112.3L391.7 100.9M453.3 141.0L452.8 124.8M137.2 113.5L137.6 102.6M182.4 117.0L181.9 96.0M568.9 148.9L568.5 125.6M234.5 120.9L235.6 102.9M206.8 118.8L206.4 107.0" stroke="#4c8428" stroke-width="1.2" fill="none"/>
<path d="M303.9 108.3L304.3 102.8M175.6 116.4L175.3 108.5M346.2 110.3L346.0 104.3M378.9 111.8L378.4 102.4M511.1 144.9L512.0 124.0M487.6 143.4L488.2 108.7M186.2 117.2L185.7 77.9M251.4 119.3L251.6 76.9M520.9 145.6L520.0 130.8M292.5 107.8L293.2 97.4M598.2 139.3L598.7 120.4M199.5 118.3L198.8 105.8M357.0 110.8L356.4 94.3M453.6 141.0L452.8 131.5M182.7 117.0L182.2 96.0M500.4 144.2L499.9 131.4M285.0 107.5L285.9 83.5M331.0 109.6L331.4 104.2M260.4 114.2L259.7 100.1M500.9 144.3L500.1 111.8M254.0 117.9L253.9 96.0M226.9 120.4L227.5 85.7M142.5 113.9L141.3 88.0M327.1 109.4L327.4 97.5M598.9 137.7L599.5 121.7M270.4 108.4L271.1 94.3M602.2 130.4L602.8 119.9M326.2 109.4L326.1 103.0M451.3 140.9L451.9 132.5M314.0 108.8L314.9 95.7M156.3 115.0L156.2 89.3M485.9 143.2L487.0 113.5M373.0 111.5L373.6 99.1M528.7 146.1L527.5 110.1M454.6 141.1L455.3 98.9M568.7 148.9L568.4 134.8M190.2 117.6L190.0 80.5M384.9 112.1L384.4 102.2M353.6 110.6L352.6 88.3M163.4 115.5L164.0 93.2M237.3 121.2L237.6 79.5M426.9 139.2L427.3 121.5M135.3 113.4L134.6 107.7M188.8 117.4L188.7 90.6M511.0 144.9L511.7 108.6M139.5 113.7L140.1 91.4M285.7 107.5L284.6 83.6M134.5 113.3L135.0 98.2M421.7 138.9L420.9 91.2M592.2 150.4L593.4 138.9M592.4 150.5L591.6 128.7M161.1 115.3L160.5 95.7M339.9 110.0L340.1 98.4M388.5 112.2L388.5 85.6M369.1 111.3L368.6 103.9M503.3 144.4L504.1 131.3M327.9 109.4L327.9 96.3M552.7 147.8L552.2 95.7M120.6 112.2L120.0 95.7M336.7 109.8L336.4 85.9M525.5 145.9L525.0 95.7M315.2 108.8L314.7 97.1M511.5 145.0L510.9 93.7M210.8 119.1L211.9 108.5M399.7 112.7L398.9 101.2M524.0 145.8L523.8 104.1M478.6 142.7L477.5 95.1M288.2 107.6L289.2 90.1M382.3 111.9L381.4 87.5M297.2 108.0L297.5 82.7M303.5 108.3L303.3 93.8M191.9 117.7L192.8 91.4M316.3 108.9L315.2 94.4M164.1 115.6L163.9 96.3M407.8 113.1L406.6 99.7M554.0 147.9L553.0 107.6M300.5 108.2L299.7 101.8M219.1 119.8L219.8 108.8M565.9 148.7L566.1 121.7M203.8 118.6L203.0 106.8M153.4 114.7L154.5 101.0M476.0 142.6L475.0 93.8M483.2 143.1L482.8 117.6M279.0 107.2L277.9 102.3M494.9 143.8L493.8 105.8M454.9 141.1L455.9 92.5M219.6 119.8L220.5 74.9M283.9 107.4L284.6 101.2M481.7 143.0L482.5 128.3M543.1 147.1L542.0 135.3M555.4 148.0L554.8 116.8M195.9 118.0L195.7 108.8M431.5 139.6L432.7 129.8M382.6 112.0L382.3 84.9M119.6 112.2L120.1 102.1M235.0 121.0L235.8 84.4M556.8 148.0L557.4 101.7M329.8 109.5L328.7 104.0M139.6 113.7L138.8 91.1M315.8 108.9L315.6 90.5M550.5 147.6L550.5 121.0M407.6 113.1L407.1 97.1M525.7 145.9L525.2 111.1M478.9 142.8L478.5 116.1M438.9 140.1L439.2 119.9M238.3 121.2L238.4 102.3M159.5 115.2L159.6 89.6M271.2 108.0L270.9 99.6M315.5 108.9L314.9 99.7M185.6 117.2L186.1 90.0" stroke="#5c9830" stroke-width="1.2" fill="none"/>
<path d="M437.7 140.0L438.2 105.8M383.5 112.0L384.1 101.4M281.7 107.3L281.7 88.5M609.9 113.6L609.0 107.8M394.2 112.5L395.0 107.4M565.4 148.6L565.5 137.7M241.1 121.4L241.5 82.6M488.1 143.4L488.6 102.4M334.1 109.7L333.3 105.3M186.7 117.3L187.1 72.3M478.4 142.7L479.0 106.7M218.1 119.7L219.1 94.2M309.2 108.6L309.3 96.5M166.0 115.7L166.6 107.6M262.9 112.8L263.7 78.2M190.7 117.6L191.6 82.1M155.4 114.9L156.3 102.3M247.1 121.9L247.5 101.8M437.8 140.0L437.2 89.4M485.4 143.2L485.9 125.8M134.1 113.3L135.2 98.3M588.3 150.2L587.2 131.1M245.7 121.8L246.3 77.6M133.8 113.2L133.1 102.5M529.9 146.2L530.1 119.8M225.7 120.3L225.6 103.9M259.9 114.5L259.9 106.7M540.7 147.0L540.6 117.0M291.2 107.7L292.0 86.3M234.8 121.0L234.4 110.6M422.0 138.9L422.9 103.9M407.0 113.1L406.7 96.2M136.6 113.5L136.8 91.4M250.7 119.8L250.3 107.5M494.8 143.8L496.0 107.1M271.2 107.9L270.1 85.9M198.6 118.2L198.4 76.2M506.4 144.6L506.8 116.6M142.7 113.9L143.0 98.6M541.6 147.0L542.0 112.5M271.9 107.6L272.1 79.1M538.3 146.8L539.2 100.9M478.7 142.8L478.9 98.3M277.8 107.1L277.4 85.2M444.1 140.4L444.8 112.1M328.6 109.5L328.8 100.4M292.2 107.8L293.2 90.9M445.4 140.5L444.3 122.8M537.9 146.8L537.0 136.6M323.6 109.2L324.4 91.0M135.3 113.4L136.3 101.4M350.8 110.5L350.1 85.3M431.1 139.5L431.9 90.6M234.1 120.9L234.0 84.3M466.3 141.9L466.0 110.5M491.3 143.6L490.8 125.6M123.5 112.5L122.9 102.0M124.3 112.5L123.2 95.0M387.5 112.2L386.6 97.8M352.1 110.5L352.4 91.8M166.5 115.7L167.1 81.0M174.0 116.3L175.0 107.5M311.5 108.7L312.2 92.5M434.7 139.8L434.5 129.5M574.6 149.3L573.9 110.9M596.1 143.7L596.6 105.4M314.4 108.8L313.2 85.0M338.0 109.9L338.3 102.8M543.4 147.1L543.1 111.1M131.1 113.0L131.4 102.5" stroke="#6caa3a" stroke-width="1.2" fill="none"/>
<path d="M582.2 149.8L582.4 98.0M526.3 146.0L525.5 112.4M568.5 148.8L567.8 100.0M225.3 120.2L225.7 85.5M538.2 146.8L538.3 103.5M575.9 149.3L575.5 103.1M600.3 134.6L599.7 107.8M123.0 112.4L123.5 93.3M430.0 139.4L431.1 90.0M553.5 147.8L554.5 103.0M380.2 111.8L380.9 91.6M277.8 107.1L277.9 88.2M331.6 109.6L330.7 87.8M377.7 111.7L376.7 85.0M221.7 120.0L220.6 84.9M250.5 119.9L249.4 76.7M182.5 117.0L183.6 77.1M568.5 148.8L568.7 107.3M466.8 141.9L467.9 104.6M176.1 116.5L177.3 89.3M566.8 148.7L565.7 96.7M452.7 141.0L451.6 93.6M122.9 112.4L122.9 92.9M120.7 112.2L120.8 96.2M213.2 119.3L212.5 83.8M315.5 108.9L314.6 87.3M248.3 121.2L248.2 86.1M350.0 110.5L349.1 87.8M184.5 117.1L183.7 76.3M376.8 111.7L376.5 85.1M323.4 109.2L323.0 81.2M175.5 116.4L174.6 86.1M531.5 146.3L531.8 97.8M331.7 109.6L330.6 90.3M506.1 144.6L505.5 92.9M196.3 118.0L196.1 76.6M596.3 143.3L595.7 98.7M301.8 108.2L300.7 82.8M371.6 111.5L371.4 89.0M255.9 116.8L255.6 84.4M386.7 112.1L387.6 86.9M363.2 111.1L364.4 87.7M131.0 113.0L130.2 99.1M525.8 145.9L524.8 96.6M289.0 107.6L290.1 88.0" stroke="#7eb846" stroke-width="1.2" fill="none"/>
<path d="M145.5 114.1L144.5 95.9M538.8 146.8L538.6 107.9M258.6 115.2L258.4 80.5M320.3 109.1L320.0 89.7M148.4 114.4L148.9 90.6M171.1 116.1L172.1 80.3M212.7 119.3L211.7 89.9M550.5 147.6L551.7 96.5M559.2 148.2L559.4 102.7M149.7 114.5L150.8 87.5M385.4 112.1L386.3 86.2M248.1 121.3L247.5 84.7M535.7 146.6L536.0 95.5M172.8 116.2L173.8 83.8M427.2 139.3L426.6 105.9M582.1 149.8L582.3 101.0M205.5 118.7L205.5 80.2M378.4 111.8L379.2 90.2M201.8 118.4L201.9 77.9M259.5 114.7L259.9 79.6M436.9 139.9L438.1 97.7M211.4 119.2L211.9 87.3" stroke="#90c852" stroke-width="1.2" fill="none"/>
<path d="M159.3 115.2L159.3 91.3M303.6 108.3L303.9 87.5M501.9 144.3L501.0 104.0M295.6 107.9L294.6 82.5M292.8 107.8L291.7 89.5M270.7 108.3L270.6 77.6M159.5 115.2L159.8 82.2M231.4 120.7L231.9 81.6M199.3 118.3L199.9 76.1M204.7 118.7L205.5 84.8M439.3 140.1L439.9 99.5M593.9 148.6L593.3 104.3M141.3 113.8L140.9 96.2M522.6 145.7L522.1 94.4M153.9 114.8L153.6 85.4M457.9 141.3L457.9 99.6M326.1 109.4L325.6 84.1M265.2 111.4L265.2 79.0M314.3 108.8L313.7 89.4M478.9 142.8L479.1 103.3M412.4 113.3L413.2 92.6M253.0 118.4L252.4 85.6" stroke="#a4d866" stroke-width="1.2" fill="none"/>
<path d="M304.7 108.4L304.5 91.2M175.6 116.4L174.5 101.9M325.6 109.3L325.9 95.3M342.3 110.1L341.3 101.9M532.4 146.4L531.6 125.9M330.9 109.6L330.7 92.4M338.2 109.9L337.0 100.0M144.4 114.1L144.8 106.4M286.3 107.5L285.3 92.2M318.6 109.0L319.4 95.1M595.0 146.2L594.8 116.9M270.6 108.3L271.4 96.5M608.3 117.3L607.8 107.7M576.3 149.4L577.5 125.2M221.3 119.9L221.4 107.4M604.8 124.8L605.5 118.2M444.3 140.4L443.7 126.3M215.0 119.5L214.8 98.2M527.3 146.0L526.9 122.7M566.6 148.7L567.0 126.1M415.1 113.5L414.4 106.3M179.5 116.7L178.5 103.6M606.5 121.1L605.9 110.0M374.4 111.6L374.8 97.3M382.6 112.0L381.8 101.3M564.4 148.6L564.6 121.0M440.7 140.2L440.4 112.3M606.4 121.4L606.8 116.9M333.3 109.7L333.0 103.9M435.2 139.8L436.0 127.8M481.3 142.9L480.4 118.2M553.9 147.9L553.5 119.5M300.9 108.2L302.0 103.6M261.8 113.3L262.5 96.4M603.4 127.8L602.9 115.7M224.9 120.2L224.3 102.8M370.7 111.4L369.9 104.0M551.0 147.7L550.9 126.8M540.4 146.9L539.6 118.5M383.4 112.0L382.2 100.1M347.6 110.3L346.5 93.9M247.5 121.6L248.6 95.4M326.6 109.4L327.6 100.9M316.3 108.9L316.6 104.0M282.9 107.4L283.0 96.4M286.1 107.5L287.2 93.3M305.7 108.4L306.1 91.3M389.2 112.3L388.7 102.8M508.3 144.8L508.9 133.9M321.9 109.2L322.5 95.5M547.7 147.4L548.3 122.1M271.2 107.9L271.9 97.7M177.9 116.6L177.3 91.7M469.2 142.1L469.6 111.9M343.1 110.1L342.6 101.0M410.1 113.2L410.0 103.9M251.8 119.1L252.9 108.8M429.9 139.4L430.4 109.4M505.6 144.6L506.8 115.8M267.3 110.2L268.1 98.1M581.4 149.7L581.5 131.5M167.1 115.8L166.6 102.5M244.2 121.7L245.3 105.2M173.5 116.3L173.1 101.3M152.1 114.6L151.6 104.4M368.0 111.3L367.9 106.4M253.4 118.2L253.7 102.2M159.9 115.2L159.8 95.3" stroke="#3c6e20" stroke-width="1.2" fill="none"/>
<path d="M480.0 142.8L480.4 132.2M143.9 114.0L144.9 99.2M493.9 143.8L493.2 125.5M152.4 114.7L153.2 98.2M137.4 113.5L136.2 101.0M321.3 109.1L321.6 99.9M202.6 118.5L202.6 93.9M278.1 107.1L277.0 96.2M257.7 115.7L257.9 102.3M570.0 148.9L570.0 120.3M467.5 142.0L466.9 131.6M479.8 142.8L479.2 129.1M406.4 113.1L405.3 99.1M272.1 107.4L271.5 92.8M189.5 117.5L189.0 89.7M574.4 149.2L574.8 120.9M570.8 149.0L570.7 132.9M606.3 121.6L607.0 113.1M598.8 138.0L597.7 128.6M153.0 114.7L153.9 97.5M134.2 113.3L133.6 108.6M448.1 140.7L447.9 124.9M375.9 111.6L375.5 103.6M362.4 111.0L362.1 96.7M288.5 107.6L287.7 93.0M128.5 112.8L128.7 105.2M257.6 115.8L258.5 106.0M532.4 146.4L532.1 115.7M281.6 107.3L281.1 99.1M431.3 139.5L430.3 123.2M373.4 111.5L373.5 97.0M268.3 109.6L268.2 98.7M474.9 142.5L474.4 114.9M493.4 143.7L494.0 122.3M476.3 142.6L476.8 128.7M279.7 107.2L279.0 92.8M503.6 144.4L502.4 125.5M286.0 107.5L286.3 101.9M213.9 119.4L214.8 109.5M253.1 118.4L252.4 98.7M333.0 109.7L333.0 98.0M327.6 109.4L327.3 94.7M519.0 145.5L518.2 126.9M203.2 118.5L202.7 101.0M369.1 111.3L369.0 103.2M567.0 148.7L566.0 135.2M394.1 112.5L394.2 97.0M139.0 113.6L139.4 109.4M461.2 141.6L462.2 128.5M296.0 108.0L296.3 90.6M425.6 139.2L425.9 118.9M460.7 141.5L459.5 115.4M242.4 121.6L241.3 107.4M288.7 107.6L289.9 95.9M479.4 142.8L478.7 125.1M229.4 120.6L228.6 99.7M338.3 109.9L337.7 105.4M447.8 140.7L447.0 129.3M160.5 115.3L159.4 102.7M208.6 119.0L208.0 105.5M475.1 142.5L475.0 110.8M465.9 141.9L466.7 120.9M576.9 149.4L577.5 132.5M178.4 116.7L178.5 90.1" stroke="#4c8428" stroke-width="1.2" fill="none"/>
<path d="M210.0 119.1L209.1 99.2M452.9 141.0L453.7 128.6M423.2 139.0L423.8 108.6M330.3 109.5L330.8 94.9M601.4 132.3L600.8 121.2M136.0 113.4L135.0 109.5M295.3 107.9L294.2 81.4M321.9 109.2L322.6 94.5M210.8 119.1L210.3 101.5M394.4 112.5L395.0 92.6M267.2 110.3L267.0 102.3M310.7 108.6L310.3 94.3M481.6 143.0L480.8 130.9M277.2 107.1L277.4 94.9M116.5 111.9L115.9 102.3M448.9 140.7L449.8 130.4M385.1 112.1L386.2 105.5M177.0 116.5L176.7 106.1M373.9 111.6L373.7 100.8M488.7 143.4L487.8 121.3M138.1 113.6L138.5 108.4M288.9 107.6L288.6 100.9M391.4 112.4L391.7 100.7M202.6 118.5L203.2 110.2M603.6 127.5L604.3 101.3M448.8 140.7L449.1 96.2M270.5 108.4L271.5 80.4M269.5 108.9L270.1 87.9M393.7 112.5L393.5 88.4M286.6 107.5L287.1 99.2M339.0 109.9L339.7 93.8M400.9 112.8L400.0 106.1M482.3 143.0L483.3 96.2M558.7 148.2L558.8 113.1M176.5 116.5L177.3 104.3M283.8 107.4L283.8 99.1M587.1 150.1L587.8 123.1M529.1 146.2L529.5 123.6M481.8 143.0L480.7 134.6M592.3 150.5L592.9 113.7M337.8 109.9L338.8 99.0M447.6 140.6L447.9 92.6M578.7 149.5L577.6 140.4M561.2 148.3L561.5 108.9M286.7 107.5L287.4 96.6M588.3 150.2L587.8 129.6M153.1 114.7L152.1 95.1M242.3 121.5L243.2 105.5M380.1 111.8L380.9 104.3M151.4 114.6L152.4 98.3M362.1 111.0L362.0 85.7M250.9 119.6L250.6 96.9M305.0 108.4L303.8 96.5M119.7 112.2L120.4 107.2M301.4 108.2L301.6 81.3M479.9 142.8L480.6 106.7M260.8 114.0L261.3 84.0M592.9 150.5L593.4 106.6M183.2 117.0L183.2 76.7M242.2 121.5L242.6 87.2M463.2 141.7L464.1 123.1M401.3 112.8L401.0 100.6M359.9 110.9L358.9 83.2M379.4 111.8L380.5 99.4M572.9 149.1L573.3 117.3M393.4 112.5L394.1 108.1M500.9 144.3L500.7 127.1M535.5 146.6L534.9 134.2M380.8 111.9L381.6 88.6M538.0 146.8L537.0 111.6M383.1 112.0L382.7 90.9M431.9 139.6L432.5 110.8M177.6 116.6L177.8 91.0M504.7 144.5L503.6 117.7M156.4 115.0L156.6 100.5M583.0 149.8L582.3 111.4M283.6 107.4L282.6 80.5M601.9 131.1L602.7 104.7M603.6 127.5L604.5 117.5M583.3 149.8L583.2 115.2M514.4 145.2L514.9 130.3M447.5 140.6L446.9 101.5M401.1 112.8L402.0 88.5M217.5 119.6L217.4 102.4M434.2 139.7L433.9 105.9M163.0 115.5L163.8 103.8M371.5 111.4L372.3 94.1M417.3 138.6L417.1 124.8M218.1 119.7L218.7 73.5M119.1 112.1L119.2 98.7M419.9 138.8L419.2 108.4M216.8 119.6L217.6 91.8M606.3 121.6L606.0 102.5M469.1 142.1L470.3 119.9M557.5 148.1L557.9 136.4M362.6 111.0L362.8 106.0M258.6 115.2L258.1 87.8M587.0 150.1L586.9 132.9M331.4 109.6L331.8 105.2M257.7 115.7L258.0 89.2M132.6 113.2L132.2 103.1M244.5 121.7L245.4 114.4M360.8 111.0L361.5 100.3M192.5 117.7L191.8 104.0M530.4 146.3L531.4 102.6M456.9 141.3L456.3 132.6M342.5 110.1L343.6 102.4M418.5 138.7L417.7 87.0M575.6 149.3L575.4 127.3M293.8 107.9L293.3 85.2" stroke="#5c9830" stroke-width="1.2" fill="none"/>
<path d="M268.3 109.6L267.2 83.5M154.8 114.8L154.8 82.7M128.5 112.8L129.2 101.3M496.5 144.0L495.6 117.9M152.9 114.7L153.9 85.2M311.9 108.7L312.0 103.1M551.6 147.7L550.7 115.2M555.9 148.0L556.0 98.0M456.0 141.2L456.3 105.2M332.2 109.6L331.1 101.4M210.9 119.1L210.7 75.6M275.1 107.0L276.2 89.8M169.7 116.0L170.1 81.5M261.9 113.3L261.1 76.9M578.0 149.5L577.2 134.7M266.0 110.9L267.2 82.4M584.9 150.0L584.8 126.3M406.4 113.1L405.6 91.8M210.8 119.1L210.0 76.0M493.0 143.7L493.6 96.9M178.9 116.7L179.4 105.9M177.3 116.6L176.4 84.9M373.3 111.5L373.1 84.0M477.7 142.7L477.0 91.8M415.6 113.5L414.9 91.8M410.1 113.2L409.7 93.3M605.3 123.8L604.7 114.2M148.4 114.4L148.8 94.0M517.0 145.3L517.5 112.2M299.1 108.1L299.8 92.8M370.5 111.4L370.4 84.0M385.9 112.1L385.3 99.0M344.9 110.2L344.8 101.9M364.9 111.1L365.5 90.0M314.7 108.8L314.0 98.0M533.5 146.5L534.2 94.4M159.5 115.2L159.7 82.3M497.3 144.0L497.9 120.7M195.0 117.9L195.2 88.6M444.7 140.4L444.0 91.6M300.0 108.1L299.2 81.4M242.0 121.5L241.9 91.8M433.1 139.7L434.0 107.1M291.9 107.8L291.5 87.8M504.9 144.5L505.4 133.6M182.2 116.9L182.6 72.8M367.8 111.3L367.7 85.7M228.8 120.5L228.9 84.2M516.9 145.3L518.1 106.3M161.8 115.4L160.9 78.6M495.6 143.9L495.2 93.6M190.2 117.6L189.1 108.6M116.1 111.9L115.0 101.4M417.9 138.6L417.8 122.7M162.1 115.4L162.1 84.9M117.9 112.0L117.1 107.0M456.0 141.2L456.3 105.6M141.0 113.8L140.8 89.5M537.3 146.7L536.1 129.2M319.9 109.1L318.7 83.2M465.7 141.9L466.6 111.7M129.0 112.9L128.0 101.5M255.4 117.1L255.0 100.3M426.4 139.2L427.2 93.2M205.0 118.7L204.6 107.2M440.4 140.2L440.9 114.1M532.8 146.4L533.9 133.6M392.0 112.4L392.5 85.4M311.9 108.7L312.9 102.3M219.2 119.8L220.0 103.0" stroke="#6caa3a" stroke-width="1.2" fill="none"/>
<path d="M474.4 142.5L474.2 107.6M562.9 148.5L562.3 114.8M117.2 112.0L116.5 99.8M432.8 139.6L433.5 103.3M445.0 140.5L446.1 98.6M604.7 125.0L605.3 107.2M200.7 118.4L200.4 88.6M185.8 117.2L185.2 81.7M465.8 141.9L465.8 91.7M434.3 139.7L433.8 89.3M112.6 111.6L111.7 101.0M131.8 113.1L130.8 92.6M277.4 107.1L277.5 88.0M298.5 108.1L299.5 85.0M248.5 121.0L249.5 77.0M386.1 112.1L385.5 90.2M482.4 143.0L482.7 98.9M237.8 121.2L236.8 86.0M193.3 117.8L193.6 78.3M492.4 143.7L492.2 104.0M258.8 115.1L258.4 81.5M239.1 121.3L238.2 77.0M358.5 110.8L359.3 89.5M440.2 140.1L441.1 98.9M502.6 144.4L501.7 106.6M462.6 141.7L463.2 95.1M341.0 110.0L341.5 91.7M400.1 112.8L399.5 88.2M254.9 117.3L255.6 91.1M232.2 120.8L232.2 83.1M593.0 150.5L592.3 104.8M448.9 140.7L448.7 104.3M558.6 148.2L557.9 104.5M168.1 115.9L168.3 82.5M401.1 112.8L401.2 91.0M182.0 116.9L181.2 75.2M414.4 113.4L414.2 89.3M489.8 143.5L488.9 104.1M181.6 116.9L181.8 73.7M313.2 108.8L313.2 89.6M221.1 119.9L221.1 87.6M494.4 143.8L494.2 107.0M114.4 111.8L114.4 97.1M479.8 142.8L478.8 105.3" stroke="#7eb846" stroke-width="1.2" fill="none"/>
<path d="M294.6 107.9L294.7 82.5M379.9 111.8L379.5 90.9M256.7 116.3L255.9 88.1M208.8 119.0L207.8 83.7M194.9 117.9L194.6 86.3M163.5 115.5L162.8 77.8M457.6 141.3L456.7 99.2M203.3 118.6L202.8 75.2M607.4 119.1L607.6 99.1M566.9 148.7L565.8 102.0M508.6 144.8L509.1 99.4M328.8 109.5L329.8 82.1M337.3 109.9L336.6 88.5M190.9 117.6L190.8 80.2M500.4 144.2L501.3 110.9M524.1 145.8L524.6 110.6M566.8 148.7L566.8 112.0M342.7 110.1L342.2 85.3M123.0 112.4L122.3 95.8M301.6 108.2L302.0 87.3M217.8 119.7L218.3 81.2" stroke="#90c852" stroke-width="1.2" fill="none"/>
<path d="M131.4 113.1L131.3 95.2M344.5 110.2L343.6 86.5M462.0 141.6L461.2 99.4M534.0 146.5L533.5 96.2M137.0 113.5L136.3 96.7M302.4 108.3L302.7 84.9M459.2 141.4L459.3 96.2M468.9 142.1L469.6 98.9M182.3 117.0L182.1 75.7M507.2 144.7L507.7 98.1M211.8 119.2L212.3 78.1M265.1 111.4L265.1 85.2M525.3 145.9L526.0 111.4M429.5 139.4L430.6 102.8M294.8 107.9L294.1 83.8M345.9 110.3L346.2 87.0M528.0 146.1L529.1 107.3M259.5 114.7L259.0 85.9M396.6 112.6L396.2 85.5M432.7 139.6L433.6 99.8M472.0 142.3L471.2 100.3M292.2 107.8L292.5 86.7" stroke="#a4d866" stroke-width="1.2" fill="none"/>
<path d="M198.5 118.2L197.6 100.3M288.3 107.6L288.3 93.8M313.4 108.8L313.9 101.7M217.4 119.6L217.9 99.1M311.7 108.7L312.2 100.2M288.9 107.6L288.4 93.0M315.5 108.9L315.3 92.8M401.7 112.8L401.3 101.6M385.7 112.1L385.1 99.7M418.9 138.7L417.9 126.3M261.5 113.5L260.4 92.5M241.4 121.5L240.3 103.8M397.6 112.6L396.8 98.4M159.2 115.2L159.2 100.8M209.1 119.0L209.1 108.5M570.9 149.0L570.2 123.6M500.9 144.3L500.1 116.1M461.6 141.6L462.8 115.9M341.3 110.1L342.1 95.4M604.5 125.4L605.5 117.6M188.9 117.5L189.9 109.2M532.3 146.4L531.2 135.8M585.0 150.0L584.7 130.2M234.8 121.0L234.7 98.6M308.4 108.5L308.9 98.1M417.1 138.6L417.0 110.2M156.8 115.0L157.6 98.7M224.9 120.2L225.5 92.3M359.7 110.9L360.7 100.6M605.4 123.5L605.4 116.8M510.2 144.9L510.3 116.9M262.7 112.8L262.1 104.8M557.7 148.1L558.2 130.0M439.2 140.1L438.1 109.3M329.1 109.5L330.3 96.7M512.9 145.1L512.0 114.3M258.9 115.1L257.8 104.8M539.8 146.9L539.9 127.8M343.8 110.2L344.6 96.4M427.0 139.2L427.9 115.0M182.7 117.0L182.7 101.0M418.6 138.7L417.4 110.2M115.2 111.8L114.5 104.1M302.2 108.2L302.1 97.6M184.4 117.1L185.1 97.0M303.0 108.3L302.7 98.4M471.9 142.3L471.6 121.4M313.1 108.7L313.7 96.4M513.1 145.1L513.8 130.0M340.0 110.0L339.8 104.6M476.7 142.6L475.8 117.7M383.9 112.0L383.5 103.1M127.2 112.7L126.7 107.9M582.4 149.8L583.0 140.0M131.8 113.1L131.0 104.7M524.7 145.9L525.8 136.7M245.3 121.8L244.4 107.0M219.1 119.8L219.4 104.9M535.7 146.6L535.2 118.5M542.2 147.1L541.6 134.0M507.2 144.7L507.4 127.0M337.9 109.9L338.7 94.9M143.7 114.0L142.9 99.7M312.2 108.7L311.8 101.1M133.2 113.2L132.4 104.4M569.2 148.9L568.7 130.5M393.2 112.4L394.4 100.4M319.8 109.1L318.6 99.5" stroke="#3c6e20" stroke-width="1.2" fill="none"/>
<path d="M250.8 119.7L251.4 109.9M209.7 119.0L208.5 93.5M444.5 140.4L445.6 130.5M153.3 114.7L152.3 99.9M382.1 111.9L383.2 96.4M577.0 149.4L577.9 140.2M354.1 110.6L353.0 95.5M271.4 107.8L271.4 89.6M515.0 145.2L516.2 115.4M598.0 139.5L598.9 131.2M473.7 142.4L474.7 131.1M505.9 144.6L505.2 123.8M427.5 139.3L427.9 119.8M293.4 107.8L293.5 95.8M223.4 120.1L222.5 97.4M519.0 145.5L518.3 135.0M525.5 145.9L525.7 121.3M480.0 142.8L480.0 128.4M282.9 107.4L282.2 90.4M533.0 146.4L533.9 127.3M544.6 147.2L545.5 117.7M165.3 115.6L165.2 105.1M272.3 107.3L273.4 92.0M476.8 142.6L476.8 111.3M524.5 145.9L525.0 137.3M577.1 149.4L577.8 130.3M450.2 140.8L451.0 111.5M397.2 112.6L396.3 102.2M416.5 138.5L416.5 121.5M477.4 142.7L477.3 128.4M570.7 149.0L569.6 132.4M451.9 140.9L450.9 127.1M547.5 147.4L546.9 139.0M233.2 120.8L232.0 106.8M130.5 113.0L130.3 100.7M455.7 141.2L455.7 114.1M261.6 113.4L262.0 91.1M274.4 107.0L274.1 96.4M440.9 140.2L442.1 110.4M575.6 149.3L576.6 131.9M336.0 109.8L336.4 101.9M368.5 111.3L369.5 98.0M396.1 112.6L395.2 98.8M546.0 147.3L545.8 138.1M347.4 110.3L348.3 97.5M123.9 112.5L124.1 100.8M348.2 110.4L347.8 93.9M116.7 111.9L116.2 106.6M346.0 110.3L345.0 95.7M574.0 149.2L572.9 133.7M305.6 108.4L304.8 92.0M214.0 119.4L212.8 110.0M435.4 139.8L436.4 108.8M243.4 121.6L242.6 104.8M169.1 115.9L168.3 98.4M213.8 119.4L213.6 103.3M170.2 116.0L169.7 93.8M248.9 120.8L249.4 93.8M582.6 149.8L582.5 139.0M322.9 109.2L322.3 102.7M361.9 111.0L361.0 106.0M574.0 149.2L573.1 137.0M133.0 113.2L134.0 101.7M450.1 140.8L450.5 120.3" stroke="#4c8428" stroke-width="1.2" fill="none"/>
<path d="M277.0 107.1L278.0 101.6M422.9 139.0L423.1 103.6M531.1 146.3L530.1 121.7M429.8 139.4L430.8 110.3M203.2 118.6L203.1 103.6M471.6 142.3L471.0 110.9M357.9 110.8L357.4 100.8M567.6 148.8L568.4 114.3M473.7 142.4L474.9 117.4M353.4 110.6L354.4 106.1M133.6 113.2L133.7 102.2M571.9 149.1L570.9 128.2M142.4 113.9L142.1 96.5M427.8 139.3L427.0 103.3M572.3 149.1L573.1 118.3M427.7 139.3L427.0 103.8M516.0 145.3L514.9 101.2M119.1 112.1L120.2 93.8M593.2 150.1L594.3 97.5M481.4 142.9L480.7 98.4M443.5 140.4L443.3 91.3M178.6 116.7L178.0 102.2M364.9 111.1L365.6 106.3M473.7 142.4L474.2 104.5M365.0 111.1L365.1 83.3M284.7 107.4L285.6 97.3M360.6 110.9L361.0 94.5M290.0 107.7L289.0 94.5M412.9 113.4L412.5 87.2M187.8 117.4L187.2 83.1M363.3 111.1L364.5 105.5M520.0 145.5L519.3 112.5M530.7 146.3L530.3 131.5M375.9 111.6L375.9 88.9M358.6 110.9L358.5 93.2M336.3 109.8L336.6 91.9M129.6 112.9L128.5 104.8M390.4 112.3L390.3 86.7M507.7 144.7L506.8 118.7M227.3 120.4L228.0 104.5M414.6 113.4L415.0 101.3M508.3 144.8L507.8 110.0M191.2 117.6L191.1 100.4M123.2 112.4L122.2 107.9M236.6 121.1L235.5 94.3M586.5 150.1L586.2 109.7M124.7 112.5L124.8 93.0M551.3 147.7L551.3 137.8M405.3 113.0L405.7 105.8M595.4 145.3L595.7 128.3M278.9 107.2L278.2 80.2M366.2 111.2L367.3 97.6M489.7 143.5L489.3 120.5M242.3 121.5L242.7 101.7M564.3 148.6L565.3 115.9M193.7 117.8L194.0 80.4M404.9 113.0L405.1 102.6M358.2 110.8L358.1 104.5M171.6 116.1L171.0 102.8M355.5 110.7L354.3 89.0M598.9 137.6L597.9 120.8M325.4 109.3L326.5 104.8M388.8 112.2L387.7 86.2M304.7 108.4L305.8 99.0M606.9 120.3L608.1 116.3M463.5 141.7L463.8 122.4M482.8 143.0L483.0 118.9M361.7 111.0L361.7 91.2M402.6 112.9L403.3 93.2M126.0 112.6L126.4 107.8M461.1 141.6L460.8 111.2M140.2 113.7L140.4 90.1M415.8 113.5L415.2 98.3M284.4 107.4L283.6 85.7M112.3 111.6L112.6 103.6M460.5 141.5L461.4 112.1M609.6 114.4L610.4 109.9M218.2 119.7L218.4 75.0M367.5 111.3L366.5 97.3M530.3 146.2L529.9 103.0M416.7 138.6L415.7 106.2M287.1 107.6L287.0 87.6M356.4 110.8L357.6 101.3M340.4 110.0L339.4 99.7M400.5 112.8L399.3 97.1M400.5 112.8L400.2 94.0M374.2 111.6L375.4 103.9M555.3 147.9L554.2 121.8M561.0 148.3L560.8 110.8M319.3 109.0L320.0 94.8M323.3 109.2L323.8 103.2M190.4 117.6L191.1 80.3M281.6 107.3L282.6 91.8M126.2 112.7L125.6 102.8M361.2 111.0L361.6 99.9M452.8 141.0L452.9 89.6M173.7 116.3L174.7 76.2M352.4 110.6L351.7 89.4M205.9 118.8L205.3 84.0M581.9 149.7L582.4 124.1M535.8 146.6L536.8 113.2M388.8 112.2L388.7 98.1M405.4 113.0L406.0 107.2M283.2 107.4L282.2 95.0M224.9 120.2L225.5 108.6M487.7 143.4L488.1 126.2M408.0 113.1L407.7 103.5M604.3 125.9L604.4 99.3M281.2 107.3L281.4 90.6M500.8 144.2L499.8 135.8" stroke="#5c9830" stroke-width="1.2" fill="none"/>
<path d="M392.0 112.4L392.8 87.2M231.5 120.7L230.8 90.2M604.7 125.0L605.2 100.9M488.0 143.4L489.0 93.6M279.6 107.2L278.7 101.9M350.6 110.5L350.8 93.8M312.3 108.7L311.4 98.9M327.9 109.4L328.7 91.8M271.7 107.6L272.6 87.3M148.3 114.3L147.2 93.9M400.1 112.8L401.1 91.8M390.5 112.3L390.2 87.8M595.4 145.2L594.5 111.7M260.8 113.9L261.9 87.3M583.8 149.9L584.1 109.5M599.6 136.1L600.1 105.0M217.1 119.6L217.2 84.7M222.8 120.0L222.5 74.3M229.4 120.6L230.5 85.5M543.1 147.1L544.3 110.7M518.4 145.4L517.8 103.9M223.0 120.1L222.6 87.3M487.2 143.3L487.5 113.0M401.3 112.8L401.3 87.0M169.6 116.0L169.6 79.7M367.9 111.3L367.2 97.1M472.7 142.3L471.8 92.7M589.9 150.3L590.0 122.2M266.5 110.6L266.5 97.3M330.6 109.6L331.2 102.1M123.7 112.5L123.6 100.1M570.8 149.0L570.7 106.2M399.7 112.7L398.8 90.9M431.8 139.6L431.2 103.3M286.2 107.5L286.7 87.4M144.6 114.1L143.8 89.9M605.3 123.8L606.1 112.1M362.3 111.0L363.3 93.7M555.2 147.9L555.0 120.1M399.8 112.8L400.3 100.6M351.9 110.5L351.0 89.6M117.5 112.0L116.9 95.7M245.5 121.8L246.5 85.4M183.6 117.1L183.3 75.3M141.4 113.8L142.5 107.6M594.5 147.1L594.5 125.0M501.1 144.3L500.2 133.8M207.4 118.9L207.7 80.8M531.2 146.3L531.7 127.8M382.6 112.0L383.4 103.1M375.2 111.6L374.9 104.1M374.9 111.6L373.9 95.2M324.8 109.3L325.4 81.6M240.5 121.4L239.5 101.3M181.0 116.9L181.5 84.1M413.0 113.4L413.1 91.2M576.6 149.4L576.4 103.1M507.8 144.7L507.9 130.3M568.3 148.8L567.8 112.1M245.4 121.8L244.4 82.3M306.9 108.5L306.1 81.7M384.5 112.0L385.3 86.9M487.2 143.3L488.0 121.7M490.6 143.6L491.7 134.3M549.4 147.5L548.3 109.1M221.1 119.9L221.9 87.4M446.4 140.6L446.3 105.7M392.9 112.4L393.7 87.8M474.2 142.4L474.6 90.9M220.2 119.9L220.9 100.7" stroke="#6caa3a" stroke-width="1.2" fill="none"/>
<path d="M487.1 143.3L487.1 106.5M212.6 119.3L211.7 74.9M523.6 145.8L523.9 97.7M126.4 112.7L126.6 94.3M443.2 140.3L442.1 105.3M558.8 148.2L559.6 100.4M386.2 112.1L386.1 92.1M182.6 117.0L183.7 80.3M400.8 112.8L401.4 92.3M341.9 110.1L341.0 91.7M386.4 112.1L386.6 91.7M179.6 116.7L178.4 80.4M332.8 109.7L331.9 88.7M602.2 130.5L603.3 102.5M452.5 141.0L452.5 106.2M278.0 107.1L277.2 86.9M580.5 149.7L581.4 108.7M350.7 110.5L350.2 83.1M430.4 139.5L431.1 96.4M264.8 111.6L263.9 84.5M212.2 119.2L211.6 87.1M330.1 109.5L329.8 92.1M304.4 108.3L304.0 82.3M460.1 141.5L459.0 95.2M541.4 147.0L540.6 107.5M197.1 118.1L196.4 85.8M573.1 149.2L574.0 99.9M486.6 143.3L485.5 100.3M223.3 120.1L223.8 79.3M464.2 141.8L463.2 105.8M556.6 148.0L557.2 98.8M235.4 121.0L236.5 90.1M363.4 111.1L363.3 86.2M276.3 107.1L277.2 85.5M240.8 121.4L240.6 83.2M207.1 118.9L208.1 76.2M256.8 116.3L256.7 78.9M479.2 142.8L478.4 95.4M534.3 146.5L533.5 107.6M278.5 107.2L279.6 87.9M413.1 113.4L412.1 92.8M411.0 113.3L411.4 94.5M554.0 147.9L553.6 102.0M533.7 146.5L533.0 110.5" stroke="#7eb846" stroke-width="1.2" fill="none"/>
<path d="M282.2 107.3L281.2 86.2M360.7 110.9L361.9 85.9M494.4 143.8L494.4 107.4M127.2 112.7L127.2 98.4M363.1 111.1L363.4 91.3M605.7 122.8L604.8 102.4M525.9 146.0L524.8 107.8M525.0 145.9L526.2 109.9M440.2 140.1L439.2 90.3M540.1 146.9L540.8 103.7M485.4 143.2L484.6 110.3M244.2 121.7L243.2 78.4M522.6 145.7L522.2 104.3M401.8 112.8L401.0 95.5M518.4 145.4L518.6 102.0M545.4 147.3L545.7 99.8M589.8 150.3L590.6 107.5M568.1 148.8L569.0 111.9M123.8 112.5L123.0 99.7M306.7 108.5L307.3 86.2M170.4 116.0L169.4 83.4" stroke="#90c852" stroke-width="1.2" fill="none"/>
<path d="M479.7 142.8L479.7 102.2M345.5 110.2L346.1 92.6M420.8 138.8L419.7 104.7M376.0 111.7L376.1 87.4M395.6 112.6L394.6 94.3M129.7 112.9L128.9 92.3M270.2 108.5L271.1 79.7M312.3 108.7L312.8 85.9M170.8 116.1L170.1 78.2M268.3 109.6L268.8 86.3M133.7 113.2L134.5 97.7M563.2 148.5L563.7 112.3M580.5 149.7L579.3 110.3M527.1 146.0L527.5 112.6M586.8 150.1L586.3 97.9M459.7 141.5L459.6 106.1M426.8 139.2L427.6 87.3M180.5 116.8L181.6 81.0M512.2 145.0L511.0 106.5M265.0 111.5L265.7 82.0M443.8 140.4L445.0 103.9M254.5 117.6L254.2 88.2" stroke="#a4d866" stroke-width="1.2" fill="none"/>
<path d="M350.2 110.5L350.4 98.1M401.5 112.8L400.9 105.1M308.3 108.5L308.6 93.7M169.6 116.0L169.8 99.6M505.0 144.5L505.1 121.7M195.5 118.0L196.0 105.6M600.6 133.9L599.8 116.3M567.4 148.8L567.0 136.3M538.8 146.8L537.9 136.3M304.4 108.4L303.8 97.6M229.7 120.6L229.7 100.1M468.5 142.1L467.5 109.2M373.8 111.6L374.2 105.9M570.1 149.0L569.2 131.4M331.5 109.6L331.0 100.9M302.6 108.3L301.7 92.3M202.4 118.5L202.9 100.9M506.3 144.6L505.7 119.2M368.4 111.3L369.2 106.6M143.2 114.0L142.8 106.9M480.0 142.8L479.4 110.3M210.9 119.1L210.4 111.1M224.4 120.2L223.9 100.7M420.1 138.8L421.1 128.6M507.5 144.7L508.4 115.5M156.6 115.0L155.5 103.3M346.8 110.3L347.9 104.8M527.4 146.1L526.4 131.8M592.6 150.5L592.6 129.8M171.3 116.1L171.1 99.1M300.1 108.1L300.0 93.3M350.6 110.5L350.4 103.0M183.3 117.0L184.0 104.2M607.7 118.4L608.4 113.4M513.0 145.1L512.7 121.6M166.9 115.8L167.4 100.9M318.3 109.0L317.8 95.0M573.5 149.2L574.5 132.1M504.6 144.5L503.9 112.3M410.7 113.3L411.5 96.6M316.7 108.9L315.7 94.3M179.1 116.7L179.6 98.3M607.3 119.4L606.8 112.0M538.8 146.8L538.0 131.2M183.9 117.1L184.3 94.4M601.7 131.6L602.2 122.8M239.4 121.3L240.2 93.2M431.2 139.5L430.1 118.9M569.2 148.9L570.1 131.4M321.7 109.1L321.0 100.2M575.2 149.3L575.1 130.0M265.7 111.1L265.3 90.8M115.2 111.8L114.4 103.9M579.0 149.6L578.1 120.0M461.2 141.6L461.5 115.5M359.0 110.9L358.5 102.0M533.3 146.5L533.2 116.8M226.6 120.3L226.4 111.4M317.6 109.0L317.7 101.6M142.6 113.9L142.6 100.2M479.5 142.8L478.8 125.1M321.5 109.1L322.1 95.9M202.1 118.5L202.6 106.9M447.7 140.6L448.4 123.4M397.1 112.6L397.5 106.0M135.5 113.4L134.7 102.8M479.5 142.8L480.4 130.1M206.3 118.8L206.0 95.8" stroke="#3c6e20" stroke-width="1.2" fill="none"/>
<path d="M455.9 141.2L456.1 114.9M201.4 118.4L200.7 95.9M190.8 117.6L191.7 90.3M513.1 145.1L514.2 129.8M176.6 116.5L175.8 96.5M211.8 119.2L212.9 97.6M414.4 113.4L413.5 97.4M479.6 142.8L480.0 123.6M153.1 114.7L152.8 104.2M195.6 118.0L196.7 102.0M371.5 111.4L372.1 102.6M255.3 117.1L255.7 104.1M132.8 113.2L133.7 101.6M501.6 144.3L500.7 134.9M238.1 121.2L237.1 104.6M459.1 141.4L459.5 124.1M536.5 146.7L536.4 128.5M118.7 112.1L117.9 102.4M238.0 121.2L238.0 102.8M504.4 144.5L504.7 114.4M132.5 113.1L131.6 101.4M236.6 121.1L237.6 112.1M300.7 108.2L301.6 98.2M430.4 139.5L430.5 129.4M584.2 149.9L585.2 125.3M586.7 150.1L587.7 136.9M356.9 110.8L357.3 95.7M433.6 139.7L433.1 129.1M185.7 117.2L186.6 103.0M371.9 111.5L372.9 101.2M415.6 113.5L416.6 100.4M478.8 142.8L479.7 130.2M591.9 150.4L592.5 123.9M409.2 113.2L408.3 96.7M507.8 144.7L508.3 131.1M265.5 111.2L265.8 105.3M156.5 115.0L155.8 104.4M361.1 111.0L361.9 101.1M462.4 141.6L461.6 130.6M567.3 148.8L566.4 131.9M291.2 107.7L290.1 102.7M262.3 113.1L263.4 102.0M111.5 111.5L111.8 108.1M449.6 140.8L450.1 132.5M590.4 150.3L590.4 133.3M476.7 142.6L476.1 123.5M438.5 140.0L438.1 122.5M170.9 116.1L169.9 109.1M129.5 112.9L130.2 100.1M276.2 107.0L275.9 99.0M467.5 142.0L468.7 116.8M216.9 119.6L217.6 90.9M568.3 148.8L567.7 131.6M417.4 138.6L417.8 124.4M326.4 109.4L326.9 98.1M279.4 107.2L280.4 99.9M198.4 118.2L197.8 110.2M379.6 111.8L378.6 100.1M197.4 118.1L196.8 100.5M369.4 111.3L369.7 97.0M485.6 143.2L485.8 122.3M180.3 116.8L180.9 105.2M376.0 111.7L376.9 98.0M158.7 115.1L159.9 93.5" stroke="#4c8428" stroke-width="1.2" fill="none"/>
<path d="M217.4 119.6L218.2 83.2M151.0 114.6L151.9 100.4M251.3 119.4L251.6 89.1M239.0 121.3L239.9 101.3M116.3 111.9L115.6 99.9M430.2 139.5L430.8 117.4M182.3 117.0L182.0 86.0M518.7 145.5L518.7 114.5M164.0 115.6L164.7 89.4M320.8 109.1L320.3 81.0M368.9 111.3L369.2 95.1M139.6 113.7L139.2 104.0M533.6 146.5L534.5 107.5M346.4 110.3L347.6 99.0M524.0 145.8L523.0 127.6M418.5 138.7L419.0 125.7M283.5 107.4L283.0 99.5M188.7 117.4L189.8 86.3M293.5 107.8L294.3 93.5M283.8 107.4L283.5 82.4M182.3 117.0L183.5 106.4M582.0 149.8L581.0 99.7M351.6 110.5L352.6 89.7M207.7 118.9L207.8 82.6M605.6 123.1L605.2 110.1M272.7 107.1L273.9 92.3M466.9 142.0L467.2 96.1M384.4 112.0L385.4 104.3M505.5 144.6L506.5 101.8M576.4 149.4L576.9 132.5M453.6 141.0L452.8 116.2M477.0 142.6L477.6 129.3M450.6 140.8L451.2 127.7M318.9 109.0L318.8 96.9M368.2 111.3L367.7 102.9M566.2 148.7L566.7 133.2M292.3 107.8L292.6 101.6M420.5 138.8L421.4 99.7M581.8 149.7L582.3 116.1M458.7 141.4L458.6 128.4M165.7 115.7L165.4 86.5M500.9 144.3L500.6 115.3M485.0 143.2L485.7 116.2M504.6 144.5L504.6 134.0M372.6 111.5L373.0 86.2M172.6 116.2L172.3 92.5M489.8 143.5L488.9 98.5M267.2 110.3L266.5 100.0M430.8 139.5L431.7 115.1M156.5 115.0L155.9 99.5M573.5 149.2L573.7 118.8M236.5 121.1L235.7 99.6M302.0 108.2L301.7 103.5M158.4 115.1L159.2 106.9M416.7 138.5L416.6 130.1M379.0 111.8L379.5 86.9M210.1 119.1L210.9 79.3M392.7 112.4L393.0 107.2M443.6 140.4L443.3 121.7M558.0 148.1L556.9 118.9M260.0 114.4L261.0 89.9M513.0 145.1L511.9 134.7M346.1 110.3L346.7 103.6M195.6 118.0L196.1 77.5M286.8 107.5L287.5 78.7M222.3 120.0L221.5 88.3M278.0 107.1L278.2 97.7M257.2 116.0L258.1 96.5M576.0 149.3L575.6 139.5M584.2 149.9L583.0 141.5M123.7 112.5L123.7 106.1M305.6 108.4L304.7 84.6M552.9 147.8L553.4 99.8M142.3 113.9L141.3 107.8M169.7 116.0L170.3 87.4M369.9 111.4L369.5 96.1M236.6 121.1L237.8 95.3M256.0 116.7L255.5 83.4M578.4 149.5L579.2 114.3M232.9 120.8L232.9 112.3M489.1 143.5L489.8 126.7M601.9 131.2L601.7 99.8M225.3 120.2L225.4 101.5M529.2 146.2L529.5 126.9M467.2 142.0L466.8 104.7M164.1 115.6L163.8 83.8M510.1 144.9L510.9 127.4M574.8 149.3L575.9 115.0M594.0 148.2L595.0 127.8M192.1 117.7L191.7 89.7M542.9 147.1L542.2 119.1M198.3 118.2L199.1 94.6M359.1 110.9L359.9 83.7M184.7 117.1L184.2 79.4M409.7 113.2L410.7 95.6M345.3 110.2L345.4 104.8M567.2 148.8L568.1 135.1M162.2 115.4L163.4 81.8M220.3 119.9L220.4 75.4M132.8 113.2L132.9 95.6M537.5 146.7L537.3 95.5M155.3 114.9L156.4 105.9M454.8 141.1L455.2 97.1M493.1 143.7L493.3 116.0M560.7 148.3L560.9 125.0M456.4 141.2L457.3 93.6M444.7 140.4L444.9 111.7M130.7 113.0L131.2 93.5M233.1 120.8L233.5 82.6M177.6 116.6L177.8 99.4" stroke="#5c9830" stroke-width="1.2" fill="none"/>
<path d="M600.2 134.8L600.4 110.0M313.2 108.8L312.6 84.6M188.6 117.4L188.2 72.5M230.0 120.6L230.6 78.6M430.5 139.5L429.3 110.4M263.5 112.4L262.5 90.9M486.2 143.3L485.6 104.8M234.8 121.0L235.6 94.1M408.1 113.1L407.9 86.4M304.8 108.4L305.6 88.5M249.9 120.2L250.0 79.8M310.5 108.6L311.0 85.2M292.6 107.8L293.4 102.1M126.9 112.7L128.0 94.2M112.6 111.6L112.6 104.2M368.4 111.3L368.9 90.6M489.7 143.5L489.8 95.0M388.5 112.2L388.5 85.3M483.2 143.1L484.1 124.6M168.5 115.9L168.0 99.0M578.5 149.5L577.6 106.5M268.4 109.6L269.2 98.2M175.6 116.4L176.7 107.4M206.0 118.8L206.6 72.7M413.3 113.4L412.5 98.8M329.3 109.5L329.2 91.5M355.8 110.7L355.5 89.7M220.5 119.9L220.3 112.3M598.3 139.0L598.9 100.7M219.6 119.8L220.2 74.0M541.7 147.0L542.3 119.0M497.5 144.0L497.3 96.6M345.1 110.2L345.3 87.4M609.9 113.6L610.6 103.0M575.3 149.3L575.6 137.5M590.7 150.3L591.8 133.6M301.4 108.2L301.4 103.4M220.5 119.9L220.7 101.1M328.0 109.4L328.4 93.6M164.2 115.6L164.7 98.9M512.0 145.0L511.5 109.3M191.9 117.7L192.2 73.3M428.6 139.4L429.2 102.0M448.5 140.7L449.0 132.0M381.0 111.9L380.1 86.0M128.5 112.8L127.9 98.7M513.9 145.1L513.0 111.4M217.2 119.6L216.1 78.2M397.4 112.6L397.2 102.8M484.6 143.2L484.3 109.0M436.9 139.9L436.2 125.3M308.1 108.5L308.3 83.6M367.2 111.2L367.6 89.5M253.3 118.2L253.7 110.3M418.4 138.7L419.5 88.9M338.6 109.9L338.0 86.2M147.5 114.3L148.5 87.1M487.1 143.3L486.6 109.3M181.4 116.9L181.3 78.7M572.6 149.1L571.8 107.2M121.9 112.3L122.1 98.1M135.8 113.4L136.3 95.2M399.8 112.8L399.1 85.6M419.6 138.7L419.8 92.9M593.4 149.6L593.8 129.7M278.4 107.1L278.6 86.9M561.2 148.3L562.1 100.6M379.8 111.8L380.5 92.3M569.8 148.9L570.2 105.0M362.6 111.0L363.6 95.6" stroke="#6caa3a" stroke-width="1.2" fill="none"/>
<path d="M585.1 150.0L584.1 109.2M199.5 118.3L200.4 76.0M180.4 116.8L181.2 80.6M393.3 112.5L393.6 90.8M275.7 107.0L274.9 78.4M493.4 143.7L492.3 99.5M479.1 142.8L479.7 106.0M575.8 149.3L574.9 111.6M277.3 107.1L276.3 84.8M482.5 143.0L481.9 101.8M268.4 109.6L269.4 80.0M156.3 115.0L157.3 81.4M140.4 113.7L139.3 96.7M215.1 119.5L215.0 73.1M352.0 110.5L352.6 87.6M443.5 140.4L443.3 98.6M283.7 107.4L284.0 79.0M257.6 115.8L258.3 86.7M607.2 119.7L607.1 105.1M363.5 111.1L363.7 92.4M242.1 121.5L240.9 79.4M373.3 111.5L372.7 91.1M156.0 114.9L156.5 91.2M195.9 118.0L196.0 84.5M560.9 148.3L560.7 107.4M153.7 114.8L152.6 87.9M397.3 112.6L398.0 89.9M324.8 109.3L324.8 90.5M223.8 120.1L223.3 89.6M391.7 112.4L390.5 88.5M603.8 127.0L604.5 102.3M365.2 111.2L365.6 84.6M180.5 116.8L180.0 74.7M129.1 112.9L128.7 93.7M416.7 138.5L416.3 90.6M208.9 119.0L209.8 89.0M368.3 111.3L367.5 92.2M324.8 109.3L324.1 83.5M231.8 120.7L232.6 77.2M162.2 115.4L162.5 79.1M587.5 150.1L588.4 103.6M390.0 112.3L390.0 85.5M189.6 117.5L190.3 83.8M257.7 115.7L258.7 81.0" stroke="#7eb846" stroke-width="1.2" fill="none"/>
<path d="M510.4 144.9L510.3 110.8M394.1 112.5L394.8 85.4M185.8 117.2L185.2 79.4M502.3 144.3L503.1 102.2M224.0 120.1L224.0 87.9M520.0 145.5L519.8 96.6M575.4 149.3L574.8 105.5M373.5 111.5L374.1 84.7M285.8 107.5L285.6 81.6M274.7 107.0L275.9 85.4M525.3 145.9L524.4 109.6M276.5 107.1L275.8 83.1M453.2 141.0L452.2 103.9M525.0 145.9L525.6 102.1M369.5 111.4L368.7 84.5M276.0 107.0L276.1 78.6M397.1 112.6L397.0 89.9M186.3 117.3L187.2 88.4M512.3 145.0L511.6 111.2M169.5 116.0L169.9 78.8M439.5 140.1L438.9 95.3" stroke="#90c852" stroke-width="1.2" fill="none"/>
<path d="M463.5 141.7L463.4 92.0M532.3 146.4L533.5 104.8M449.9 140.8L450.8 90.5M609.9 113.8L610.2 106.2M441.7 140.2L441.2 97.2M506.0 144.6L506.2 110.8M568.8 148.9L568.4 98.7M244.9 121.7L244.6 84.6M566.2 148.7L567.3 105.7M418.4 138.7L419.5 90.1M450.3 140.8L449.5 93.9M262.6 112.9L261.5 77.3M434.2 139.7L434.5 94.7M134.4 113.3L134.5 98.2M214.8 119.4L214.2 81.5M464.2 141.8L463.8 98.8M507.8 144.7L508.6 95.2M213.2 119.3L214.0 86.1M384.5 112.0L383.7 89.9M399.7 112.7L399.3 92.1M408.2 113.1L408.6 93.4M418.3 138.7L417.7 104.4" stroke="#a4d866" stroke-width="1.2" fill="none"/>
<path d="M126.7 112.7L127.1 107.2M426.9 139.2L426.1 123.5M490.9 143.6L489.9 120.2M593.9 148.5L593.3 128.9M562.1 148.4L561.1 119.9M249.1 120.7L249.1 100.1M457.6 141.3L458.7 127.4M220.8 119.9L222.0 93.8M343.5 110.2L344.6 103.4M117.3 112.0L117.1 103.2M343.7 110.2L343.6 105.7M382.4 111.9L383.0 101.3M163.3 115.5L163.2 93.0M514.5 145.2L515.5 133.9M530.7 146.3L529.6 118.1M290.5 107.7L290.1 93.6M426.8 139.2L426.6 107.7M571.3 149.0L570.4 135.0M523.4 145.8L524.3 117.3M159.2 115.2L159.9 104.6M307.2 108.5L307.3 98.9M544.8 147.2L544.5 124.9M450.0 140.8L449.4 132.6M493.7 143.8L493.9 135.1M269.1 109.1L269.5 101.6M350.2 110.5L350.0 100.2M556.8 148.0L555.7 136.5M200.2 118.3L199.6 96.9M387.0 112.2L386.0 107.4M325.6 109.3L325.5 96.3M403.1 112.9L403.4 107.9M313.5 108.8L314.3 103.5M444.1 140.4L445.1 107.6M264.4 111.9L264.7 101.9M247.1 121.9L247.9 92.8M493.5 143.8L492.4 113.0M127.4 112.8L126.7 105.9M569.0 148.9L569.6 139.3M312.4 108.7L311.4 101.4M549.8 147.6L550.2 134.7M603.0 128.7L603.7 112.8M329.3 109.5L330.4 101.4M423.6 139.0L424.0 123.2M421.3 138.9L421.7 113.2M384.3 112.0L384.1 95.9M557.8 148.1L557.0 121.8M455.9 141.2L456.4 112.0M184.4 117.1L184.7 89.1M545.2 147.3L544.7 130.1M442.1 140.3L442.9 124.4M486.9 143.3L486.8 132.0M580.2 149.6L579.7 123.0M408.7 113.2L408.8 97.4M228.8 120.5L227.8 97.4M530.6 146.3L531.6 113.3M523.9 145.8L525.1 133.4M603.4 127.9L602.5 122.4M407.3 113.1L406.5 99.1M180.9 116.8L181.1 105.3M292.2 107.8L291.1 97.1M548.9 147.5L549.9 131.2M380.0 111.8L379.0 97.4M563.7 148.5L564.6 139.5M212.1 119.2L211.3 102.5M406.5 113.1L406.6 97.5M378.1 111.8L377.1 99.6M460.9 141.5L461.1 124.6M428.9 139.4L428.8 122.9" stroke="#3c6e20" stroke-width="1.2" fill="none"/>
<path d="M326.0 109.3L326.9 100.3M609.2 115.3L610.1 111.4M381.4 111.9L382.5 98.0M165.9 115.7L165.2 107.1M522.8 145.7L522.2 120.6M322.3 109.2L321.8 94.2M534.3 146.5L534.4 127.3M238.7 121.3L239.3 99.3M418.9 138.7L419.1 116.6M306.6 108.5L306.0 101.5M411.9 113.3L410.8 105.5M527.4 146.1L526.6 120.9M445.2 140.5L446.2 116.1M409.9 113.2L409.7 101.6M144.6 114.1L145.3 102.8M135.7 113.4L134.6 99.4M245.1 121.8L245.9 113.9M446.3 140.6L445.8 127.9M545.2 147.3L545.0 114.2M392.4 112.4L392.3 99.8M586.0 150.0L585.0 127.6M494.7 143.8L495.2 129.9M470.9 142.2L471.5 117.4M329.6 109.5L328.9 100.8M358.0 110.8L357.4 94.6M536.9 146.7L538.0 131.2M405.9 113.0L404.7 107.3M341.9 110.1L341.3 99.7M422.7 139.0L422.3 109.0M458.4 141.4L457.5 119.6M515.6 145.3L516.8 127.3M484.0 143.1L483.2 135.1M448.0 140.7L448.6 113.4M244.0 121.7L244.6 110.9M144.6 114.1L145.4 108.2M142.8 113.9L141.9 105.5M305.4 108.4L306.1 103.7M605.0 124.4L604.1 120.0M561.1 148.3L561.0 127.0M420.5 138.8L420.8 119.6M173.7 116.3L172.9 93.1M194.4 117.9L193.7 91.9M456.0 141.2L457.1 125.9M423.2 139.0L424.2 123.0M252.7 118.6L252.4 92.1M151.9 114.6L153.0 96.7M294.4 107.9L294.6 95.1M546.5 147.3L545.3 124.4M235.7 121.0L235.0 104.3M359.7 110.9L360.1 102.4M244.1 121.7L243.7 98.1M167.4 115.8L167.2 99.3M559.4 148.2L559.1 128.2M299.0 108.1L299.2 99.3M579.4 149.6L579.2 119.2M193.0 117.8L193.5 106.2M418.0 138.6L418.2 111.7M557.6 148.1L558.1 120.3M346.6 110.3L346.2 105.1M383.0 112.0L383.5 101.4M341.1 110.0L340.8 98.4M262.5 113.0L261.9 104.4M274.6 107.0L273.4 97.1M130.5 113.0L129.7 107.5" stroke="#4c8428" stroke-width="1.2" fill="none"/>
<path d="M232.3 120.8L232.6 97.9M529.3 146.2L528.9 97.7M425.4 139.1L425.0 115.9M165.2 115.6L166.2 90.5M582.4 149.8L581.7 126.6M375.9 111.6L376.4 107.2M561.3 148.4L561.1 126.3M507.6 144.7L508.7 126.8M368.5 111.3L369.5 100.1M475.7 142.5L476.5 128.9M330.8 109.6L331.3 99.9M301.3 108.2L300.8 85.6M147.1 114.3L148.0 86.4M466.9 142.0L466.2 95.2M293.0 107.8L292.5 94.4M381.0 111.9L381.1 84.9M434.8 139.8L435.7 111.1M558.0 148.1L557.8 96.5M359.3 110.9L358.9 94.9M570.9 149.0L570.6 132.0M203.1 118.5L203.4 93.1M146.8 114.2L147.2 90.2M198.9 118.2L199.4 104.0M607.6 118.6L608.2 106.9M247.5 121.6L247.6 89.7M260.6 114.1L260.1 77.2M603.8 126.9L604.9 98.7M284.8 107.4L285.8 80.7M200.1 118.3L201.1 91.7M126.1 112.7L126.7 103.2M262.0 113.2L262.3 90.4M177.4 116.6L178.5 84.8M402.9 112.9L403.3 101.3M372.5 111.5L371.4 89.6M563.2 148.5L563.5 127.2M326.1 109.4L326.7 101.7M470.5 142.2L469.8 100.2M502.9 144.4L502.5 135.2M449.6 140.8L449.6 100.1M363.7 111.1L364.3 84.3M440.6 140.2L440.0 100.8M344.3 110.2L344.0 91.6M200.5 118.3L200.7 110.4M218.3 119.7L217.5 91.8M480.7 142.9L480.9 121.3M376.7 111.7L375.9 97.9M578.0 149.5L576.8 104.6M359.3 110.9L358.8 85.9M589.7 150.3L590.0 99.8M533.5 146.5L534.2 108.3M135.2 113.4L136.1 99.9M585.5 150.0L586.1 116.5M413.3 113.4L413.9 87.4M432.3 139.6L432.9 121.1M126.7 112.7L125.8 97.8M431.0 139.5L431.1 99.9M514.6 145.2L514.3 118.4M155.1 114.9L156.0 96.4M201.5 118.4L201.9 89.1M166.9 115.8L166.8 96.4M176.5 116.5L175.9 75.2M330.8 109.6L331.5 102.3M251.6 119.2L252.1 85.4M222.8 120.0L223.3 90.8M526.3 146.0L527.3 136.3M323.0 109.2L323.3 98.0M357.7 110.8L357.8 84.7M439.8 140.1L438.7 112.3M204.9 118.7L203.8 95.8M336.3 109.8L336.7 104.6M375.3 111.6L374.4 106.4M295.0 107.9L295.5 85.9M444.4 140.4L443.2 111.8M142.6 113.9L142.4 107.4M394.0 112.5L394.7 98.2M217.0 119.6L217.1 93.2M509.4 144.8L508.9 102.5M561.3 148.3L562.0 136.4M409.1 113.2L408.3 105.2M348.6 110.4L348.1 105.9M297.3 108.0L297.5 95.1M427.3 139.3L427.9 113.5M160.3 115.3L161.4 87.1M477.2 142.7L476.3 114.8M212.5 119.3L212.2 83.9M299.1 108.1L298.3 90.1M484.5 143.1L484.1 105.9M602.3 130.3L602.4 101.9M588.3 150.2L589.2 140.2M218.6 119.7L219.4 103.1M486.8 143.3L485.8 111.5M476.7 142.6L476.9 117.7M228.8 120.5L228.9 102.5M227.1 120.4L226.8 99.6M421.4 138.9L422.3 114.2M139.5 113.7L139.3 104.0M446.8 140.6L446.5 128.7M220.8 119.9L221.5 87.3M582.5 149.8L583.0 116.7M294.1 107.9L295.2 89.6M305.2 108.4L305.8 103.6M361.9 111.0L362.9 83.4M501.9 144.3L501.9 109.0M567.2 148.8L567.4 121.6M223.8 120.1L224.5 107.9M492.5 143.7L492.2 107.3M305.9 108.4L304.8 101.9M327.7 109.4L327.7 88.3M546.5 147.3L545.6 115.9" stroke="#5c9830" stroke-width="1.2" fill="none"/>
<path d="M225.0 120.2L224.2 97.7M181.3 116.9L181.2 74.5M212.9 119.3L212.3 97.7M422.9 139.0L423.1 102.6M192.0 117.7L191.2 96.6M424.3 139.1L423.8 128.3M321.4 109.1L320.4 83.4M259.7 114.6L260.9 90.3M240.9 121.4L240.6 103.5M550.4 147.6L550.5 109.3M518.0 145.4L518.3 131.8M538.0 146.8L538.8 103.9M289.6 107.7L290.1 82.9M569.5 148.9L569.7 104.3M287.2 107.6L287.2 80.0M124.4 112.5L124.0 97.1M309.5 108.6L309.8 89.6M605.2 124.0L604.0 99.8M286.0 107.5L285.2 80.1M248.3 121.1L247.2 113.8M501.1 144.3L500.8 98.0M507.0 144.7L508.0 104.3M331.7 109.6L330.7 101.1M535.2 146.6L535.2 104.2M523.2 145.8L522.5 94.0M420.1 138.8L419.7 116.6M188.2 117.4L189.4 74.9M349.2 110.4L348.0 102.9M375.7 111.6L376.6 85.8M342.0 110.1L341.0 104.8M510.3 144.9L510.7 129.1M418.6 138.7L419.0 88.3M381.7 111.9L382.7 90.3M469.3 142.1L468.6 90.3M456.9 141.3L455.8 100.1M328.4 109.5L327.5 81.9M212.6 119.3L212.2 83.5M382.5 112.0L382.6 90.1M118.9 112.1L118.3 101.5M502.1 144.3L501.1 104.8M422.0 138.9L422.4 88.3M212.2 119.2L212.3 76.5M256.4 116.5L257.2 82.8M465.2 141.8L465.4 122.2M117.5 112.0L118.1 103.7M208.0 118.9L207.4 89.6M544.3 147.2L544.2 103.6M161.5 115.4L160.9 106.0M232.6 120.8L232.1 88.4M134.6 113.3L133.8 96.3M121.8 112.3L121.4 100.4M435.2 139.8L434.3 91.2M362.0 111.0L362.1 86.4M335.5 109.8L336.4 88.9M347.9 110.4L346.9 85.8M346.9 110.3L347.6 92.1M520.7 145.6L520.6 104.4M572.8 149.1L573.9 101.3M290.6 107.7L290.4 102.2M554.9 147.9L555.4 111.8M602.8 129.1L603.3 99.6M553.8 147.8L554.0 123.6M578.3 149.5L577.1 99.5M341.5 110.1L342.0 94.7M574.2 149.2L573.2 140.3M272.0 107.5L271.5 88.5M352.1 110.6L352.5 84.2M149.4 114.4L149.6 94.6M557.3 148.1L556.5 114.2" stroke="#6caa3a" stroke-width="1.2" fill="none"/>
<path d="M149.9 114.5L149.3 89.4M564.0 148.5L563.7 110.8M313.5 108.8L312.9 88.1M564.9 148.6L565.3 97.5M471.2 142.2L472.4 108.3M520.3 145.6L519.4 111.5M186.9 117.3L187.2 87.0M461.1 141.6L460.8 100.0M112.1 111.6L112.9 105.5M139.6 113.7L140.3 89.3M321.1 109.1L320.7 89.0M295.0 107.9L293.9 86.6M285.3 107.5L286.2 85.4M123.0 112.4L123.2 97.0M220.3 119.9L219.8 87.2M168.0 115.9L168.4 76.5M142.6 113.9L141.4 93.7M141.0 113.8L141.8 96.4M192.4 117.7L191.2 81.1M576.1 149.4L576.3 114.7M556.5 148.0L557.5 112.6M283.3 107.4L283.7 83.3M382.8 112.0L381.9 94.5M332.8 109.7L332.2 92.2M233.8 120.9L234.8 85.3M552.8 147.8L553.2 99.0M354.6 110.7L353.4 85.7M307.1 108.5L308.0 85.1M589.2 150.2L589.3 102.1M158.5 115.1L157.8 85.8M234.7 121.0L234.7 76.5M518.3 145.4L519.4 98.2M397.9 112.7L397.8 92.0M199.5 118.3L200.0 81.3M173.9 116.3L173.0 83.4M216.7 119.6L215.6 87.4M199.0 118.2L198.6 74.8M591.0 150.4L590.2 114.9M301.0 108.2L300.4 87.2M487.1 143.3L487.7 96.5M284.2 107.4L284.4 78.4M297.6 108.0L297.4 88.2M516.7 145.3L517.7 95.0M478.3 142.7L477.3 106.3" stroke="#7eb846" stroke-width="1.2" fill="none"/>
<path d="M479.9 142.8L480.2 108.8M348.4 110.4L348.5 85.5M553.3 147.8L553.7 109.1M152.4 114.7L153.6 93.0M288.6 107.6L289.6 87.4M179.0 116.7L178.2 82.6M413.7 113.4L413.1 92.7M301.5 108.2L300.9 82.3M330.3 109.5L329.4 87.0M459.1 141.4L458.6 92.3M361.6 111.0L362.0 92.5M209.3 119.0L208.8 80.1M480.7 142.9L479.9 100.7M458.0 141.3L457.9 101.6M578.4 149.5L577.4 114.5M537.6 146.7L537.7 99.2M201.8 118.4L201.9 79.8M595.3 145.5L595.5 106.7M189.9 117.5L190.6 82.2M290.6 107.7L290.2 79.0M270.2 108.5L270.4 85.9" stroke="#90c852" stroke-width="1.2" fill="none"/>
<path d="M219.5 119.8L220.6 78.4M127.8 112.8L126.6 100.1M137.7 113.5L137.1 94.5M571.2 149.0L570.8 105.5M337.9 109.9L338.8 91.6M597.9 139.8L598.9 109.3M308.1 108.5L307.8 82.7M466.8 141.9L467.3 108.5M270.5 108.4L270.4 82.0M122.2 112.4L122.5 99.1M523.3 145.8L522.6 95.7M286.0 107.5L287.2 81.8M337.7 109.9L337.1 89.1M157.9 115.1L157.6 84.5M146.9 114.2L147.8 89.8M346.3 110.3L347.1 83.9M111.8 111.6L112.0 103.9M256.8 116.2L255.7 82.7M290.6 107.7L291.5 85.8M406.2 113.0L405.4 92.1M246.0 121.8L245.5 88.4M306.2 108.4L306.8 80.4" stroke="#a4d866" stroke-width="1.2" fill="none"/>
<path d="M265.4 81.0L265.2 78.0M256.2 81.4L256.1 78.4M544.9 100.5L545.1 97.5M586.9 103.0L586.5 100.0M540.2 100.7L540.6 97.7M565.6 99.0L566.3 96.0M438.1 91.5L438.5 88.5M553.5 100.2L554.3 97.2M450.5 93.8L451.0 90.8M593.1 103.0L593.2 100.0M454.9 93.0L454.4 90.0M167.0 80.3L167.4 77.3M441.4 93.9L441.0 90.9M268.9 83.4L268.3 80.4M557.4 101.2L557.1 98.2M520.5 99.8L520.6 96.8M496.5 95.7L497.3 92.7M132.4 96.6L132.9 93.6M473.0 94.3L473.2 91.3M213.8 76.8L214.2 73.8M520.6 97.3L521.1 94.3M398.4 89.7L398.2 86.7M426.2 92.0L425.6 89.0M572.4 102.1L572.7 99.1M397.6 91.0L397.7 88.0M455.9 93.6L455.3 90.6M575.8 102.6L576.1 99.6M474.0 93.9L474.4 90.9M515.1 97.4L514.8 94.4M137.5 94.1L138.1 91.1M522.2 98.3L522.9 95.3M404.1 89.0L403.9 86.0M522.5 98.8L522.0 95.8M215.4 78.3L215.5 75.3M227.2 77.6L226.6 74.6M542.2 100.4L542.7 97.4M471.6 93.6L470.9 90.6M465.7 95.1L466.2 92.1M495.6 96.7L495.8 93.7M584.8 99.9L585.0 96.9M374.7 88.2L375.0 85.2M314.1 83.5L314.5 80.5M580.6 101.2L581.2 98.2M530.8 99.0L531.4 96.0M282.0 82.5L282.0 79.5M341.3 86.9L340.6 83.9M413.8 89.8L413.8 86.8M281.9 82.7L281.7 79.7M568.8 99.1L568.2 96.1M118.2 97.0L118.4 94.0M314.4 86.3L313.9 83.3M289.9 85.0L289.9 82.0M295.0 84.0L295.7 81.0M523.8 98.2L524.3 95.2M596.2 101.5L595.9 98.5M559.6 99.9L558.9 96.9M268.3 82.8L267.8 79.8M392.0 88.0L391.9 85.0M441.0 91.3L441.1 88.3M228.6 78.5L228.8 75.5M118.2 98.0L118.3 95.0M600.6 102.4L601.3 99.4M550.5 101.1L550.6 98.1M185.1 76.1L184.5 73.1M146.8 90.2L147.1 87.2M462.8 95.4L462.4 92.4M180.1 76.1L180.1 73.1M257.7 82.1L258.1 79.1M274.5 81.6L274.5 78.6M539.6 100.6L539.9 97.6M465.4 95.2L464.6 92.2M459.9 92.5L459.1 89.5M227.9 78.0L228.3 75.0M460.3 93.3L461.0 90.3M123.0 97.6L123.5 94.6M168.3 80.7L167.9 77.7M385.4 87.3L385.8 84.3M402.3 89.8L401.8 86.8M175.3 78.1L175.2 75.1M284.9 82.3L284.8 79.3M265.9 82.5L265.7 79.5M122.6 96.4L121.8 93.4M313.2 84.6L312.9 81.6M390.0 90.1L389.9 87.1M402.8 91.5L402.0 88.5M240.9 78.5L241.0 75.5M521.7 98.7L522.1 95.7M311.7 86.2L312.0 83.2M532.5 97.6L532.1 94.6M462.7 93.5L463.0 90.5M385.7 90.6L385.7 87.6M372.6 87.5L373.2 84.5M207.7 76.1L208.4 73.1M590.4 101.2L589.9 98.2M309.1 83.6L309.0 80.6M433.0 92.0L433.1 89.0M295.3 84.5L295.2 81.5M250.4 80.5L250.4 77.5M439.6 94.5L439.3 91.5M387.0 87.9L387.5 84.9M497.7 97.0L497.3 94.0M175.0 78.3L174.5 75.3M539.7 99.0L540.4 96.0M528.5 98.8L527.8 95.8M473.3 94.7L474.1 91.7M427.8 92.4L427.7 89.4M144.3 90.2L144.2 87.2M216.3 76.0L216.8 73.0M330.8 87.3L331.6 84.3M470.4 94.7L470.1 91.7M259.9 81.0L259.2 78.0M159.6 83.5L159.3 80.5M511.7 96.6L512.2 93.6M220.4 76.3L220.5 73.3M246.3 79.4L246.4 76.4M225.9 77.3L226.3 74.3M510.9 99.1L510.5 96.1M305.7 84.2L305.3 81.2M253.8 81.0L253.2 78.0M368.6 87.4L369.4 84.4M298.1 82.2L298.2 79.2M421.7 92.7L421.9 89.7M218.4 77.1L218.0 74.1M469.8 95.2L469.7 92.2M509.7 98.6L509.5 95.6M194.1 75.9L193.9 72.9M276.4 81.6L275.6 78.6M394.9 89.4L395.0 86.4M588.2 103.2L588.1 100.2M284.1 83.9L283.8 80.9M224.7 78.7L224.2 75.7M368.7 88.7L368.4 85.7M113.1 101.9L112.5 98.9M449.3 91.9L448.7 88.9M475.1 97.0L475.4 94.0M145.5 90.4L145.2 87.4M454.4 93.3L455.0 90.3M395.3 88.1L395.1 85.1M196.0 78.1L195.3 75.1M457.9 93.2L458.5 90.2M174.5 77.1L174.8 74.1M190.8 75.6L191.4 72.6M537.4 100.2L537.9 97.2M481.4 95.4L482.0 92.4M225.9 79.8L226.5 76.8M569.3 100.3L570.0 97.3M383.3 88.3L382.8 85.3M405.9 91.5L406.1 88.5M175.0 76.9L175.7 73.9M455.9 92.6L456.3 89.6M485.7 94.5L485.1 91.5M563.6 101.0L564.3 98.0M244.8 79.1L245.2 76.1M468.6 94.5L468.5 91.5M297.0 84.4L297.7 81.4M131.7 96.7L132.5 93.7M234.0 77.8L233.4 74.8M496.1 98.0L495.3 95.0M212.9 78.2L212.5 75.2M443.7 94.1L444.5 91.1M211.6 78.8L211.1 75.8M395.5 88.7L394.9 85.7M311.5 83.0L311.7 80.0M510.5 97.3L510.8 94.3M137.7 93.9L138.3 90.9M400.0 89.4L399.7 86.4M442.4 94.2L442.3 91.2M589.7 101.3L588.9 98.3M219.7 78.6L219.8 75.6M475.4 94.6L476.1 91.6M421.4 92.6L421.8 89.6M190.6 75.3L190.6 72.3M239.5 80.4L239.7 77.4M577.2 102.3L577.7 99.3M416.1 89.9L415.4 86.9M527.8 97.6L527.7 94.6M291.1 84.0L291.6 81.0M581.5 101.8L581.9 98.8M158.3 84.1L157.6 81.1M465.2 95.1L465.9 92.1M358.7 86.9L358.9 83.9M573.4 101.9L573.4 98.9M221.1 76.3L221.0 73.3M519.8 99.9L519.7 96.9M158.2 83.3L158.7 80.3M512.0 98.7L511.7 95.7M455.5 94.6L455.8 91.6M407.4 91.9L407.8 88.9M313.3 84.9L314.0 81.9M386.1 90.7L385.4 87.7M317.7 83.4L317.0 80.4M232.9 80.0L232.3 77.0M174.1 79.8L174.1 76.8M290.5 85.1L290.3 82.1M234.5 80.4L235.0 77.4M364.5 88.1L364.3 85.1M305.7 82.7L306.3 79.7M152.0 88.4L152.4 85.4M607.5 102.2L607.8 99.2M122.7 99.3L123.1 96.3M550.0 98.7L550.6 95.7M386.2 87.8L385.8 84.8M419.4 89.8L418.9 86.8M573.4 102.6L573.6 99.6M559.4 101.4L558.9 98.4M392.0 88.8L391.5 85.8M587.5 101.4L588.0 98.4M588.8 100.9L588.1 97.9M435.8 92.5L435.7 89.5M127.0 96.0L126.2 93.0M371.0 89.7L370.4 86.7M217.0 76.5L217.1 73.5M605.1 104.2L604.3 101.2M608.8 105.2L608.8 102.2M238.2 79.7L237.5 76.7M528.2 98.2L528.1 95.2M432.6 93.2L433.3 90.2M506.4 99.1L506.9 96.1M504.3 97.4L503.8 94.4M505.6 98.5L504.9 95.5M433.3 93.3L434.0 90.3M427.6 91.4L427.7 88.4M281.5 81.4L281.4 78.4M365.7 87.6L366.1 84.6M243.8 79.1L243.8 76.1M327.5 84.4L328.3 81.4M413.9 92.3L414.6 89.3M374.7 87.5L374.0 84.5M239.0 78.8L238.8 75.8M378.2 89.9L378.7 86.9M416.2 91.0L416.8 88.0M577.8 101.9L578.0 98.9M208.4 76.6L209.0 73.6M452.0 93.1L452.4 90.1M176.0 76.8L176.0 73.8M554.7 100.0L555.4 97.0M196.0 76.0L195.6 73.0M312.5 86.4L312.5 83.4M200.6 78.2L201.2 75.2M590.8 100.6L591.1 97.6M542.5 99.8L541.8 96.8M134.6 96.9L133.8 93.9M371.1 88.1L370.6 85.1M270.3 80.5L270.3 77.5M526.0 97.6L525.7 94.6M113.0 101.8L113.5 98.8M270.7 83.5L269.9 80.5M441.8 91.3L441.2 88.3M494.2 98.1L494.6 95.1M362.2 89.1L361.7 86.1M319.5 84.9L320.3 81.9M375.4 88.0L375.8 85.0M145.4 91.4L146.2 88.4M582.7 101.1L582.7 98.1M337.8 87.7L337.4 84.7M252.2 79.2L251.7 76.2M422.3 91.1L421.6 88.1M229.1 79.3L228.3 76.3M279.0 82.7L278.8 79.7M319.9 83.4L320.2 80.4" stroke="#4e8a3a" stroke-width="1.1" fill="none" opacity="0.6"/>
</g>
<defs><filter id="blr" x="-5%" y="-5%" width="110%" height="110%"><feGaussianBlur stdDeviation="0.55"/></filter><filter id="sf" x="0" y="0" width="100%" height="100%" color-interpolation-filters="sRGB"><feTurbulence type="fractalNoise" baseFrequency="0.21" numOctaves="2" seed="4" result="n"/><feColorMatrix in="n" type="matrix" values="0 0 0 0 0.78  0 0 0 0 0.72  0 0 0 0 0.6  10 0 0 0 -6.5" result="lt"/><feGaussianBlur in="lt" stdDeviation="0.6" result="ltb"/><feTurbulence type="fractalNoise" baseFrequency="0.55" numOctaves="1" seed="7" result="n2"/><feColorMatrix in="n2" type="matrix" values="0 0 0 0 0.78  0 0 0 0 0.72  0 0 0 0 0.6  2 0 0 0 -1.22" result="lt2"/><feTurbulence type="fractalNoise" baseFrequency="0.06" numOctaves="3" seed="9" result="m"/><feColorMatrix in="m" type="matrix" values="0 0 0 0 0.22  0 0 0 0 0.16  0 0 0 0 0.09  0.9 0 0 0 -0.42" result="dk"/><feMerge result="mg"><feMergeNode in="SourceGraphic"/><feMergeNode in="dk"/><feMergeNode in="lt2"/><feMergeNode in="ltb"/></feMerge><feComposite in="mg" in2="SourceGraphic" operator="in"/></filter><filter id="sfT" x="0" y="0" width="100%" height="100%" color-interpolation-filters="sRGB"><feTurbulence type="fractalNoise" baseFrequency="0.21" numOctaves="2" seed="8" result="n"/><feColorMatrix in="n" type="matrix" values="0 0 0 0 0.6  0 0 0 0 0.52  0 0 0 0 0.4  9 0 0 0 -6.2" result="lt"/><feGaussianBlur in="lt" stdDeviation="0.6" result="ltb"/><feTurbulence type="fractalNoise" baseFrequency="0.55" numOctaves="1" seed="11" result="n2"/><feColorMatrix in="n2" type="matrix" values="0 0 0 0 0.6  0 0 0 0 0.52  0 0 0 0 0.4  2 0 0 0 -1.22" result="lt2"/><feTurbulence type="fractalNoise" baseFrequency="0.06" numOctaves="3" seed="13" result="m"/><feColorMatrix in="m" type="matrix" values="0 0 0 0 0.22  0 0 0 0 0.16  0 0 0 0 0.09  0.9 0 0 0 -0.42" result="dk"/><feMerge result="mg"><feMergeNode in="SourceGraphic"/><feMergeNode in="dk"/><feMergeNode in="lt2"/><feMergeNode in="ltb"/></feMerge><feComposite in="mg" in2="SourceGraphic" operator="in"/></filter><filter id="sfB" x="0" y="0" width="100%" height="100%" color-interpolation-filters="sRGB"><feTurbulence type="fractalNoise" baseFrequency="0.21" numOctaves="2" seed="12" result="n"/><feColorMatrix in="n" type="matrix" values="0 0 0 0 0.55  0 0 0 0 0.45  0 0 0 0 0.32  9 0 0 0 -6.2" result="lt"/><feGaussianBlur in="lt" stdDeviation="0.6" result="ltb"/><feTurbulence type="fractalNoise" baseFrequency="0.55" numOctaves="1" seed="15" result="n2"/><feColorMatrix in="n2" type="matrix" values="0 0 0 0 0.55  0 0 0 0 0.45  0 0 0 0 0.32  2 0 0 0 -1.22" result="lt2"/><feTurbulence type="fractalNoise" baseFrequency="0.06" numOctaves="3" seed="17" result="m"/><feColorMatrix in="m" type="matrix" values="0 0 0 0 0.22  0 0 0 0 0.16  0 0 0 0 0.09  0.9 0 0 0 -0.42" result="dk"/><feMerge result="mg"><feMergeNode in="SourceGraphic"/><feMergeNode in="dk"/><feMergeNode in="lt2"/><feMergeNode in="ltb"/></feMerge><feComposite in="mg" in2="SourceGraphic" operator="in"/></filter><linearGradient id="gStepF" x1="0" x2="1"><stop offset="0" stop-color="#856848"/><stop offset="0.5" stop-color="#896a46"/><stop offset="1" stop-color="#8c6b46"/></linearGradient><linearGradient id="gStepT" x1="0" x2="1"><stop offset="0" stop-color="#6e5a44"/><stop offset="1" stop-color="#7a6040"/></linearGradient></defs>
<polygon points="111.0,111.0 247.0,121.4 258.6,114.3 273.0,106.4 418.0,113.0 416.0,138.0 593.0,150.0 610.0,113.0 581.4,388.6 550.0,514.3 97.0,427.0 88.0,347.0 130.0,316.5" fill="#6e5237"/>
<polygon points="273.0,106.4 287.0,105.7 330.0,108.6 418.0,113.0 416.0,138.0 411.0,370.0 254.0,340.0 247.0,121.4 258.6,114.3" fill="#634a30" filter="url(#sfB)"/>
<defs><linearGradient id="ls" x1="0" x2="0" y1="0" y2="1"><stop offset="0" stop-color="#3b2c1e" stop-opacity="0.15"/><stop offset="0.34" stop-color="#2e2218" stop-opacity="0.88"/><stop offset="1" stop-color="#2a1f16" stop-opacity="0.95"/></linearGradient></defs>
<polygon points="247,130 262,140 267,335 254,335" fill="url(#ls)"/>
<polygon points="380,165 417,165 414,370 393,360" fill="#2a2016" opacity="0.8"/>
<polygon points="111.0,111.0 247.0,121.4 254.0,331.0 130.0,316.5" fill="#87694a" filter="url(#sf)"/>
<polygon points="416.0,138.0 593.0,150.0 571.0,383.0 413.0,359.0" fill="#886a4a" filter="url(#sf)"/>
<defs><linearGradient id="topd" gradientUnits="userSpaceOnUse" x1="0" y1="110" x2="0" y2="175"><stop offset="0" stop-color="#2a1a0e" stop-opacity="0.32"/><stop offset="1" stop-color="#2a1a0e" stop-opacity="0"/></linearGradient><linearGradient id="topd2" gradientUnits="userSpaceOnUse" x1="0" y1="136" x2="0" y2="200"><stop offset="0" stop-color="#2a1a0e" stop-opacity="0.3"/><stop offset="1" stop-color="#2a1a0e" stop-opacity="0"/></linearGradient></defs>
<polygon points="111.0,111.0 247.0,121.4 254.0,331.0 130.0,316.5" fill="url(#topd)"/>
<defs><linearGradient id="botd" gradientUnits="userSpaceOnUse" x1="0" y1="215" x2="0" y2="330"><stop offset="0" stop-color="#3a3028" stop-opacity="0"/><stop offset="1" stop-color="#3a3028" stop-opacity="0.2"/></linearGradient></defs>
<polygon points="111.0,111.0 247.0,121.4 254.0,331.0 130.0,316.5" fill="url(#botd)"/>
<polygon points="416.0,138.0 593.0,150.0 571.0,383.0 413.0,359.0" fill="url(#topd2)"/>
<polygon points="593.0,150.0 610.0,113.0 581.4,388.6 572.9,383.0" fill="#84623b"/>
<polygon points="130.0,316.5 254.0,331.0 413.0,359.0 572.9,383.0 566.7,413.0 385.0,398.0 219.0,371.0 88.0,347.0" fill="url(#gStepT)" filter="url(#sfT)"/>
<polygon points="88.0,347.0 219.0,371.0 385.0,398.0 566.7,413.0 546.5,510.0 550.0,514.3 97.0,427.0" fill="url(#gStepF)" filter="url(#sf)"/>
<polygon points="572.9,383.0 581.4,388.6 550.0,514.3 546.5,510.0" fill="#775233"/>
<polyline points="130,316.5 88,347 97,427 550,514.3 581.4,388.6 610,113" fill="none" stroke="#3a2818" stroke-width="1"/>
<line x1="111" y1="111" x2="130" y2="316.5" stroke="#3a2818" stroke-width="0.8"/>
<polygon points="219.6,369.5 267.0,323.7 392.0,318.0 410.5,326.0 411.0,353.6 386.8,396.4" fill="#e0d68e"/>
<g filter="url(#blr)"><path d="M251.2 372.1l1.2 0.5M312.1 383.6l0.0 0.0M313.6 383.3l0.5 0.2M315.0 376.3l-0.3 0.1M317.2 383.6l-0.3 0.1M361.2 376.2l0.6 0.2M313.5 377.3l-0.9 0.4M319.1 373.9l-0.2 0.1M308.9 381.2l-0.1 0.0M310.8 382.5l1.0 0.4M394.1 324.6l-1.1 0.4M369.2 336.6l1.0 0.4M405.0 350.8l-0.8 0.3M348.6 324.6l0.7 0.3M311.8 371.2l0.9 0.4M395.0 369.4l-1.1 0.4M269.3 361.8l0.0 0.0M313.3 381.9l-0.8 0.3M318.2 379.8l0.3 0.1M314.5 382.6l0.6 0.2M306.9 364.1l0.5 0.2M307.6 380.9l1.0 0.4M307.4 334.9l-1.1 0.4M247.5 366.9l0.1 0.1M301.9 377.0l0.9 0.4M310.0 379.0l-1.0 0.4M395.2 331.7l-0.8 0.3M374.1 389.1l0.7 0.3M319.5 377.0l0.6 0.2M387.3 323.6l-1.1 0.4M398.8 372.1l-0.1 0.0M319.0 374.7l0.8 0.3M322.7 376.5l-1.0 0.4" stroke="#eee6aa" stroke-width="1.5" stroke-linecap="round" fill="none"/>
<path d="M404.0 332.4l1.1 0.4M331.5 354.7l-1.1 0.4M398.9 370.8l-1.0 0.4M316.7 372.8l-0.9 0.4M303.8 379.5l0.4 0.2M291.7 341.7l1.1 0.4M310.8 381.8l1.2 0.5M296.7 330.9l0.3 0.1M269.7 341.9l-0.4 0.2M395.4 365.6l1.0 0.4M317.8 374.6l1.2 0.5M379.8 360.6l-0.6 0.2M312.3 381.0l0.7 0.3M303.3 376.2l-0.2 0.1M314.8 381.3l-0.6 0.2M292.5 324.7l-1.1 0.5M393.7 369.1l0.8 0.3M316.7 381.5l-0.3 0.1M288.9 331.0l-1.2 0.5M387.1 370.1l-0.6 0.2M332.9 342.8l0.3 0.1" stroke="#c9bf7e" stroke-width="0.5" stroke-linecap="round" fill="none"/>
<path d="M396.0 372.4l0.0 0.0M374.4 319.5l-0.2 0.1M312.7 380.3l0.4 0.2M289.6 330.1l1.1 0.4M316.3 380.9l-0.9 0.4M406.7 357.6l-0.6 0.2M368.8 367.1l1.1 0.4M350.1 338.5l-1.1 0.5M316.6 336.7l0.5 0.2M335.7 366.6l0.2 0.1M288.5 345.6l0.9 0.4M312.2 369.9l-0.2 0.1M285.6 330.1l0.4 0.2M397.3 372.8l-0.4 0.2M316.8 370.7l1.1 0.4M404.1 337.5l-0.8 0.3M315.1 376.4l-0.7 0.3M362.4 375.2l-1.0 0.4M308.6 373.0l-0.3 0.1M398.1 376.2l-0.2 0.1M319.0 370.2l-0.2 0.1M318.8 371.8l0.4 0.2M372.8 344.4l-1.0 0.4M319.9 375.9l-0.1 0.0M355.1 338.8l0.7 0.3M310.6 378.6l1.0 0.4M223.2 368.8l-0.7 0.3M382.4 390.0l0.4 0.2M369.2 380.2l1.1 0.4M361.0 344.7l0.2 0.1M314.5 380.1l0.7 0.3M308.5 383.6l0.5 0.2M318.6 382.7l0.8 0.3M366.4 385.4l0.4 0.2M321.1 370.6l0.6 0.3M304.2 377.9l0.2 0.1M365.0 385.7l0.4 0.2M301.1 378.1l0.3 0.1M260.7 336.1l-0.3 0.1M243.4 362.3l0.3 0.1M383.7 368.6l-0.6 0.3M315.0 376.3l-0.1 0.0M315.5 370.6l1.1 0.4M294.3 324.5l-1.0 0.4M310.8 373.4l-1.2 0.5M312.5 376.7l-0.6 0.2M304.6 331.8l0.5 0.2M325.7 326.0l0.7 0.3M309.3 369.2l-1.0 0.4M285.7 332.1l0.9 0.4M305.2 382.3l1.0 0.4M311.5 371.2l-0.9 0.3M315.3 377.5l0.5 0.2M278.1 339.8l-1.0 0.4M268.3 329.5l-0.3 0.1M352.7 343.2l-0.3 0.1M383.4 361.5l-1.0 0.4" stroke="#eee6aa" stroke-width="1.0" stroke-linecap="round" fill="none"/>
<path d="M314.8 327.1l0.9 0.4M310.7 382.3l-0.2 0.1M360.6 375.3l-0.0 0.0M308.1 379.8l1.0 0.4M309.7 375.0l-0.4 0.2M309.7 376.9l-0.7 0.3M350.6 320.0l0.1 0.1M301.9 368.5l-0.6 0.2M310.1 370.8l-0.2 0.1M316.2 378.8l-0.6 0.2M326.0 340.3l-0.2 0.1M276.0 338.4l0.2 0.1" stroke="#eee6aa" stroke-width="0.5" stroke-linecap="round" fill="none"/>
<path d="M309.5 382.3l-1.2 0.5M365.6 363.5l0.7 0.3M306.4 381.2l0.2 0.1M285.9 364.8l1.1 0.4M307.1 378.2l-1.2 0.5M305.7 382.5l-0.1 0.0M310.7 383.3l0.9 0.4M316.2 376.5l1.0 0.4M313.4 362.9l-0.9 0.4M317.5 383.0l-0.6 0.2M377.5 393.6l-0.2 0.1M307.9 379.4l1.2 0.5M398.5 373.2l0.5 0.2M399.8 329.6l1.1 0.4M315.9 373.8l-1.2 0.5M312.0 322.3l0.6 0.2M334.2 372.3l-0.3 0.1M398.6 326.2l-0.2 0.1M397.8 373.5l-0.9 0.4M310.9 383.7l-0.1 0.1M313.7 371.0l0.1 0.0M368.2 374.4l0.4 0.2M302.8 378.4l0.3 0.1M395.0 373.6l-0.9 0.4M302.0 370.1l-0.1 0.0M338.6 331.2l0.9 0.4M305.7 379.3l-0.7 0.3M405.7 341.7l0.5 0.2M308.1 365.3l0.8 0.3M360.7 352.1l1.0 0.4M312.6 372.2l0.9 0.4M345.5 335.5l0.4 0.2M266.3 366.1l-0.1 0.0M318.7 374.2l-0.5 0.2M320.6 370.6l-0.9 0.3M383.7 353.7l-1.2 0.5M371.3 363.8l1.1 0.4M382.0 366.0l0.4 0.2M328.1 359.8l0.6 0.2M341.3 356.8l0.2 0.1M313.6 383.3l0.9 0.4M290.3 332.3l-1.0 0.4M344.2 335.4l-0.9 0.4M313.4 383.6l-0.3 0.1M314.7 374.4l-0.9 0.4M278.9 356.1l-0.9 0.3M362.2 339.6l0.1 0.0M313.4 373.6l0.7 0.3" stroke="#c9bf7e" stroke-width="1.0" stroke-linecap="round" fill="none"/>
<path d="M310.4 382.1l0.7 0.3M287.6 342.9l-0.8 0.3M316.0 373.1l0.2 0.1M316.6 382.1l0.6 0.3M393.1 371.3l-0.5 0.2M400.0 370.6l-1.1 0.5M308.8 367.7l0.3 0.1M397.2 333.6l0.3 0.1M318.4 371.8l-0.3 0.1M277.8 361.9l-0.0 0.0M263.7 327.5l1.2 0.5M401.6 361.4l-1.0 0.4M393.4 376.3l-0.8 0.3M381.8 362.2l-0.6 0.2M239.4 369.4l-0.2 0.1M301.6 376.2l-0.2 0.1M311.8 379.1l1.2 0.5M314.8 375.9l-1.0 0.4M249.6 370.8l0.6 0.2M320.6 370.6l0.4 0.2M364.6 361.2l-0.4 0.1M397.7 375.5l-1.0 0.4M386.2 367.0l-0.1 0.1M378.0 370.6l0.9 0.4M320.2 380.3l-1.1 0.4M400.1 370.0l0.2 0.1M351.2 387.8l-0.1 0.1M361.6 326.7l-1.0 0.4M336.5 341.3l-0.4 0.2" stroke="#c9bf7e" stroke-width="1.5" stroke-linecap="round" fill="none"/></g>
<polygon points="219.6,369.5 386.8,396.4 385.7,415.7 221.3,388.8" fill="#f6eca0"/>
<polyline points="221.3,388.8 385.7,415.7" stroke="#9b8a58" stroke-width="0.8" fill="none"/>
<polygon points="241.3,363.0 271.9,328.5 392.0,318.0 409.5,327.0 409.5,344.6 373.8,384.5" fill="#efbf08"/>
<defs><linearGradient id="tk" x1="0" x2="1" y1="0" y2="0"><stop offset="0" stop-color="#3a3a3a"/><stop offset="0.08" stop-color="#2f2f2f"/><stop offset="0.5" stop-color="#2a2a2b"/><stop offset="0.88" stop-color="#2e2e2e"/><stop offset="1" stop-color="#202020"/></linearGradient><linearGradient id="tkv" x1="0" x2="0" y1="0" y2="1"><stop offset="0" stop-color="#000" stop-opacity="0.45"/><stop offset="0.12" stop-color="#000" stop-opacity="0.1"/><stop offset="1" stop-color="#000" stop-opacity="0"/></linearGradient></defs>
<polygon points="264.5,195 270.5,195 270.5,345 265.5,338" fill="#4e4438"/>
<path d="M270 190 L393 190 L393 342 A61.5 31 0 0 1 270 342 Z" fill="url(#tk)"/>
<path d="M270 190 L393 190 L393 342 A61.5 31 0 0 1 270 342 Z" fill="url(#tkv)"/>
<path d="M268 200.0H392M268 203.6H392M268 207.2H392M268 210.8H392M268 214.4H392M268 218.0H392M268 221.6H392M268 225.2H392M268 228.8H392M268 232.4H392M268 236.0H392M268 239.6H392M268 243.2H392M268 246.8H392M268 250.4H392M268 254.0H392M268 257.6H392M268 261.2H392M268 264.8H392M268 268.4H392M268 272.0H392M268 275.6H392M268 279.2H392M268 282.8H392M268 286.4H392M268 290.0H392M268 293.6H392M268 297.2H392M268 300.8H392M268 304.4H392M268 308.0H392M268 311.6H392M268 315.2H392M268 318.8H392M268 322.4H392M268 326.0H392M268 329.6H392M268 333.2H392M268 336.8H392M268 340.4H392M268 344.0H392M268 347.6H392M268 351.2H392M268 354.8H392M268 358.4H392M268 362.0H392" stroke="#4a4a4a" stroke-width="0.6" opacity="0.25" fill="none"/>
<polygon points="271.9,328.5 241.3,363 271.9,358" fill="#f8d232"/>
<polygon points="357.9,339.6 374,385.7 357.9,370.7" fill="#f6cb22"/>
<polygon points="392,312.5 409.5,327 392,336" fill="#f4cc2a"/>
<polygon points="230.0,185.7 297.0,150.0 356.0,154.5 415.5,160.5 378.0,201.6" fill="#f8ca1a"/>
<polygon points="230,185.7 378,201.6 377.7,203 232,187" fill="#d9aa0a"/>
<polygon points="232,187 268.6,191.4 267,215" fill="#f3c20e"/>
<defs><linearGradient id="nk" x1="0" x2="1"><stop offset="0" stop-color="#262626"/><stop offset="0.5" stop-color="#1c1c1c"/><stop offset="1" stop-color="#262626"/></linearGradient></defs>
<path d="M303 127 L355 127 L355 172 A26 7 0 0 1 303 172 Z" fill="url(#nk)"/>
<polygon points="305.7,150 281.4,178.6 305.7,177" fill="#fbd84a"/>
<polygon points="340.4,152 352.5,185.5 340.4,178" fill="#f8d02a"/>
<polygon points="355.3,146.5 373,164 355.3,176" fill="#fcd535"/>
<path d="M301 120.5 L357 120.5 L357 127 A28 6.5 0 0 1 301 127 Z" fill="#88b981"/>
<ellipse cx="329" cy="120.5" rx="28" ry="6.5" fill="#97c68f"/>
<defs><linearGradient id="pp" x1="0" x2="0" y1="0" y2="1"><stop offset="0" stop-color="#c4c4c6"/><stop offset="0.25" stop-color="#d4d4d6"/><stop offset="0.7" stop-color="#cacacc"/><stop offset="1" stop-color="#a4a4a6"/></linearGradient><linearGradient id="pv" x1="0" x2="1"><stop offset="0" stop-color="#a8a8aa"/><stop offset="0.45" stop-color="#d2d2d4"/><stop offset="1" stop-color="#9c9c9e"/></linearGradient></defs>
<path d="M109 125 L272.3 136.7 L270.7 149.3 L109 135 Q106 134.5 106 130 Q106 125.5 109 125 Z" fill="url(#pp)"/>
<path d="M266 136 Q287.5 136.5 287.5 152 L287.5 164.2 L276 164.2 L276 153 Q276 149.5 266 149 Z" fill="url(#pv)"/>
<path d="M266 135.5 L268 135.6 L268 149.6 L266 149.4 Z" fill="#bdbdbf"/>
<rect x="276.5" y="163.4" width="11" height="5.8" rx="1" fill="#262626"/>
<path d="M386.6 188.4 L590.5 208.7 L590.5 220.7 L386.6 204 Z" fill="url(#pp)"/>
<path d="M389 189 L397 189.6 L397 204.2 L389 203.8 Q385.5 203.5 385.5 196.5 Q385.5 189.5 389 189 Z" fill="#dcdcde"/>
<line x1="397.5" y1="190" x2="397.5" y2="204" stroke="#b0b0b2" stroke-width="0.8"/>
<line x1="142.3" y1="61.4" x2="164" y2="133" stroke="#111" stroke-width="1.6"/>
<line x1="569.5" y1="72.5" x2="530.5" y2="208.5" stroke="#111" stroke-width="1.6"/>
</svg>
<div class="lbl" style="left:75px;top:44px;letter-spacing:0.85px;word-spacing:-1.5px;">Входной патрубок</div>
<div class="lbl" style="left:499px;top:54px;letter-spacing:0.9px;word-spacing:-1.5px;">Выходной патрубок</div>
</body></html>
